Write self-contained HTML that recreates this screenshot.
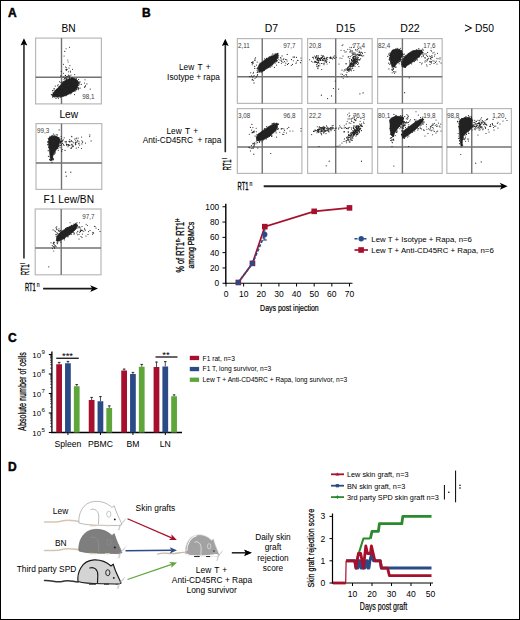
<!DOCTYPE html>
<html><head><meta charset="utf-8"><style>
html,body{margin:0;padding:0;background:#fff;}
body{width:520px;height:620px;overflow:hidden;}
svg{display:block;font-family:"Liberation Sans", sans-serif;}
</style></head><body>
<svg width="520" height="620" viewBox="0 0 520 620" font-family='"Liberation Sans", sans-serif'>
<rect x="0" y="0" width="520" height="620" fill="#fff"/>
<text x="8" y="16.5" font-size="12" text-anchor="start" fill="#000" font-weight="bold" stroke="#000" stroke-width="0.45">A</text>
<text x="68.5" y="32" font-size="10.2" text-anchor="middle" fill="#000" font-weight="normal" >BN</text>
<text x="68.8" y="117.5" font-size="10.2" text-anchor="middle" fill="#000" font-weight="normal" >Lew</text>
<text x="68.8" y="202.5" font-size="10.2" text-anchor="middle" fill="#000" font-weight="normal" >F1 Lew/BN</text>
<rect x="35.6" y="38.1" width="65.8" height="65.8" fill="none" stroke="#b8b8b8" stroke-width="1.2" />
<line x1="61.5" y1="38.1" x2="61.5" y2="103.9" stroke="#727272" stroke-width="1.4" />
<line x1="35.6" y1="77.3" x2="101.4" y2="77.3" stroke="#727272" stroke-width="1.4" />
<path d="M52,95 L55,91 L58,88 L61,84.5 L64,81.5 L68,79 L72,78 L76,79 L78.5,82 L78,86 L76,89.5 L72,92.5 L67,95 L62,96.5 L57,97 L53,96.5Z" fill="#222" stroke="#222" stroke-width="0.6" stroke-linejoin="round"/>
<g fill="#222"><circle cx="53.7" cy="94.8" r="0.6"/><circle cx="51.4" cy="94.5" r="0.6"/><circle cx="51.9" cy="94.8" r="0.6"/><circle cx="53.7" cy="93.4" r="0.6"/><circle cx="56.5" cy="89.3" r="0.6"/><circle cx="54.1" cy="88.8" r="0.6"/><circle cx="54.8" cy="90.8" r="0.6"/><circle cx="55.6" cy="90.3" r="0.6"/><circle cx="59.0" cy="88.0" r="0.6"/><circle cx="60.9" cy="86.2" r="0.6"/><circle cx="59.1" cy="86.6" r="0.6"/><circle cx="58.8" cy="88.0" r="0.6"/><circle cx="62.3" cy="82.8" r="0.6"/><circle cx="62.0" cy="83.0" r="0.6"/><circle cx="63.2" cy="81.5" r="0.6"/><circle cx="60.9" cy="82.5" r="0.6"/><circle cx="66.3" cy="82.1" r="0.6"/><circle cx="63.2" cy="81.9" r="0.6"/><circle cx="64.4" cy="81.1" r="0.6"/><circle cx="66.8" cy="78.7" r="0.6"/><circle cx="71.0" cy="79.4" r="0.6"/><circle cx="69.5" cy="77.9" r="0.6"/><circle cx="72.3" cy="77.8" r="0.6"/><circle cx="72.0" cy="78.9" r="0.6"/><circle cx="76.3" cy="78.6" r="0.6"/><circle cx="72.1" cy="79.2" r="0.6"/><circle cx="71.6" cy="78.2" r="0.6"/><circle cx="73.9" cy="78.7" r="0.6"/><circle cx="76.3" cy="80.3" r="0.6"/><circle cx="79.0" cy="82.1" r="0.6"/><circle cx="78.6" cy="79.5" r="0.6"/><circle cx="78.0" cy="82.5" r="0.6"/><circle cx="80.0" cy="81.9" r="0.6"/><circle cx="78.7" cy="83.2" r="0.6"/><circle cx="77.2" cy="83.0" r="0.6"/><circle cx="79.3" cy="83.1" r="0.6"/><circle cx="75.2" cy="86.4" r="0.6"/><circle cx="75.4" cy="88.3" r="0.6"/><circle cx="78.5" cy="89.0" r="0.6"/><circle cx="77.6" cy="87.6" r="0.6"/><circle cx="74.1" cy="90.9" r="0.6"/><circle cx="73.8" cy="91.5" r="0.6"/><circle cx="75.6" cy="90.8" r="0.6"/><circle cx="76.3" cy="89.7" r="0.6"/><circle cx="71.4" cy="92.9" r="0.6"/><circle cx="67.2" cy="94.4" r="0.6"/><circle cx="70.2" cy="93.8" r="0.6"/><circle cx="73.0" cy="90.5" r="0.6"/><circle cx="64.3" cy="95.7" r="0.6"/><circle cx="66.1" cy="95.7" r="0.6"/><circle cx="63.0" cy="96.4" r="0.6"/><circle cx="61.7" cy="96.3" r="0.6"/><circle cx="60.4" cy="97.0" r="0.6"/><circle cx="58.0" cy="95.9" r="0.6"/><circle cx="60.3" cy="97.0" r="0.6"/><circle cx="56.6" cy="96.6" r="0.6"/><circle cx="56.0" cy="98.5" r="0.6"/><circle cx="54.0" cy="95.2" r="0.6"/><circle cx="53.7" cy="95.9" r="0.6"/><circle cx="54.8" cy="96.9" r="0.6"/><circle cx="52.8" cy="97.1" r="0.6"/><circle cx="53.3" cy="95.2" r="0.6"/><circle cx="54.3" cy="94.9" r="0.6"/><circle cx="52.8" cy="96.6" r="0.6"/></g>
<g fill="#222"><circle cx="69.5" cy="88.7" r="0.55"/><circle cx="55.3" cy="86.1" r="0.55"/><circle cx="68.6" cy="81.6" r="0.55"/><circle cx="58.2" cy="84.7" r="0.55"/><circle cx="75.7" cy="85.9" r="0.55"/><circle cx="73.6" cy="79.0" r="0.55"/><circle cx="64.8" cy="82.8" r="0.55"/><circle cx="74.5" cy="90.6" r="0.55"/><circle cx="65.0" cy="95.5" r="0.55"/><circle cx="72.3" cy="83.3" r="0.55"/><circle cx="58.5" cy="98.2" r="0.55"/><circle cx="65.3" cy="85.1" r="0.55"/><circle cx="70.1" cy="87.3" r="0.55"/><circle cx="73.6" cy="78.6" r="0.55"/><circle cx="76.5" cy="89.0" r="0.55"/><circle cx="75.0" cy="81.9" r="0.55"/><circle cx="64.7" cy="93.0" r="0.55"/><circle cx="67.9" cy="87.1" r="0.55"/><circle cx="74.7" cy="81.7" r="0.55"/><circle cx="53.1" cy="92.6" r="0.55"/><circle cx="58.0" cy="95.7" r="0.55"/><circle cx="67.6" cy="83.8" r="0.55"/><circle cx="68.6" cy="90.1" r="0.55"/><circle cx="70.1" cy="91.7" r="0.55"/><circle cx="68.7" cy="91.0" r="0.55"/><circle cx="78.7" cy="88.4" r="0.55"/><circle cx="64.9" cy="92.3" r="0.55"/><circle cx="54.1" cy="88.7" r="0.55"/><circle cx="57.8" cy="97.0" r="0.55"/><circle cx="59.9" cy="90.7" r="0.55"/><circle cx="65.8" cy="87.5" r="0.55"/><circle cx="64.1" cy="89.7" r="0.55"/><circle cx="77.4" cy="81.7" r="0.55"/><circle cx="72.0" cy="89.1" r="0.55"/><circle cx="63.4" cy="82.9" r="0.55"/><circle cx="65.9" cy="92.7" r="0.55"/><circle cx="56.4" cy="89.8" r="0.55"/><circle cx="74.3" cy="86.9" r="0.55"/><circle cx="68.6" cy="90.0" r="0.55"/><circle cx="65.6" cy="82.1" r="0.55"/><circle cx="56.8" cy="89.4" r="0.55"/><circle cx="71.2" cy="82.1" r="0.55"/><circle cx="60.3" cy="86.9" r="0.55"/><circle cx="58.0" cy="91.2" r="0.55"/><circle cx="60.9" cy="92.0" r="0.55"/><circle cx="54.1" cy="95.4" r="0.55"/><circle cx="59.5" cy="81.8" r="0.55"/><circle cx="70.6" cy="83.8" r="0.55"/><circle cx="52.5" cy="90.6" r="0.55"/><circle cx="67.8" cy="84.4" r="0.55"/><circle cx="73.0" cy="87.4" r="0.55"/><circle cx="71.5" cy="86.2" r="0.55"/><circle cx="76.0" cy="85.4" r="0.55"/><circle cx="65.5" cy="77.9" r="0.55"/><circle cx="74.7" cy="89.1" r="0.55"/><circle cx="64.4" cy="86.2" r="0.55"/><circle cx="74.7" cy="74.6" r="0.55"/><circle cx="74.5" cy="94.6" r="0.55"/><circle cx="63.0" cy="92.4" r="0.55"/><circle cx="77.6" cy="80.8" r="0.55"/><circle cx="72.0" cy="88.6" r="0.55"/><circle cx="61.6" cy="89.4" r="0.55"/><circle cx="70.3" cy="89.2" r="0.55"/><circle cx="66.4" cy="86.4" r="0.55"/><circle cx="60.5" cy="88.8" r="0.55"/><circle cx="72.3" cy="84.7" r="0.55"/><circle cx="60.4" cy="86.5" r="0.55"/><circle cx="84.6" cy="83.1" r="0.55"/><circle cx="65.5" cy="75.4" r="0.55"/><circle cx="71.5" cy="86.9" r="0.55"/><circle cx="77.5" cy="83.4" r="0.55"/><circle cx="67.6" cy="89.1" r="0.55"/><circle cx="57.9" cy="96.8" r="0.55"/><circle cx="67.5" cy="83.4" r="0.55"/><circle cx="78.2" cy="89.7" r="0.55"/><circle cx="57.6" cy="88.8" r="0.55"/><circle cx="69.0" cy="86.8" r="0.55"/><circle cx="62.8" cy="84.6" r="0.55"/><circle cx="81.2" cy="84.4" r="0.55"/><circle cx="57.5" cy="85.7" r="0.55"/><circle cx="78.7" cy="85.5" r="0.55"/><circle cx="79.0" cy="84.4" r="0.55"/><circle cx="62.5" cy="90.6" r="0.55"/><circle cx="53.1" cy="90.8" r="0.55"/><circle cx="67.7" cy="89.1" r="0.55"/><circle cx="62.6" cy="88.8" r="0.55"/><circle cx="70.4" cy="87.0" r="0.55"/><circle cx="71.1" cy="85.8" r="0.55"/><circle cx="66.7" cy="90.9" r="0.55"/><circle cx="65.7" cy="83.8" r="0.55"/></g>
<g fill="#222"><circle cx="65.0" cy="76.0" r="0.55"/><circle cx="66.6" cy="76.7" r="0.55"/><circle cx="67.0" cy="76.8" r="0.55"/><circle cx="66.6" cy="70.3" r="0.55"/><circle cx="68.3" cy="80.7" r="0.55"/><circle cx="68.4" cy="75.1" r="0.55"/><circle cx="68.4" cy="71.7" r="0.55"/><circle cx="60.9" cy="76.3" r="0.55"/><circle cx="64.0" cy="79.3" r="0.55"/><circle cx="63.5" cy="64.2" r="0.55"/><circle cx="63.7" cy="83.1" r="0.55"/><circle cx="65.8" cy="69.8" r="0.55"/><circle cx="64.6" cy="78.3" r="0.55"/><circle cx="68.6" cy="76.8" r="0.55"/><circle cx="71.7" cy="79.2" r="0.55"/><circle cx="66.9" cy="78.7" r="0.55"/><circle cx="72.3" cy="80.4" r="0.55"/><circle cx="70.3" cy="71.1" r="0.55"/><circle cx="66.5" cy="79.3" r="0.55"/><circle cx="66.1" cy="80.8" r="0.55"/><circle cx="68.9" cy="80.1" r="0.55"/><circle cx="66.3" cy="87.5" r="0.55"/><circle cx="71.0" cy="75.0" r="0.55"/><circle cx="67.3" cy="87.7" r="0.55"/><circle cx="65.9" cy="79.9" r="0.55"/><circle cx="70.1" cy="76.0" r="0.55"/><circle cx="63.3" cy="76.8" r="0.55"/><circle cx="68.2" cy="81.1" r="0.55"/><circle cx="69.5" cy="76.1" r="0.55"/><circle cx="69.7" cy="78.4" r="0.55"/><circle cx="67.7" cy="76.2" r="0.55"/><circle cx="66.2" cy="79.1" r="0.55"/><circle cx="63.6" cy="73.2" r="0.55"/><circle cx="67.0" cy="69.4" r="0.55"/><circle cx="65.6" cy="67.0" r="0.55"/><circle cx="64.8" cy="78.6" r="0.55"/><circle cx="68.8" cy="75.8" r="0.55"/><circle cx="66.3" cy="69.6" r="0.55"/><circle cx="72.8" cy="78.3" r="0.55"/><circle cx="70.5" cy="72.0" r="0.55"/><circle cx="66.4" cy="67.8" r="0.55"/><circle cx="69.5" cy="80.2" r="0.55"/><circle cx="60.9" cy="75.8" r="0.55"/><circle cx="69.0" cy="68.1" r="0.55"/><circle cx="61.2" cy="71.2" r="0.55"/></g>
<g fill="#222"><circle cx="66.1" cy="48.8" r="0.55"/><circle cx="68.1" cy="62.0" r="0.55"/><circle cx="69.9" cy="65.6" r="0.55"/><circle cx="72.5" cy="69.3" r="0.55"/><circle cx="64.1" cy="56.0" r="0.55"/><circle cx="64.8" cy="51.4" r="0.55"/><circle cx="67.8" cy="60.0" r="0.55"/><circle cx="69.5" cy="47.3" r="0.55"/></g>
<g fill="#222"><circle cx="78.6" cy="87.9" r="0.55"/><circle cx="84.8" cy="87.1" r="0.55"/><circle cx="85.6" cy="85.7" r="0.55"/><circle cx="90.2" cy="89.1" r="0.55"/><circle cx="85.5" cy="86.0" r="0.55"/><circle cx="85.0" cy="79.8" r="0.55"/><circle cx="80.1" cy="88.1" r="0.55"/><circle cx="77.0" cy="88.6" r="0.55"/><circle cx="86.9" cy="83.9" r="0.55"/><circle cx="84.5" cy="87.1" r="0.55"/></g>
<text x="94.5" y="99" font-size="6.3" text-anchor="end" fill="#404040" font-weight="normal" >98,1</text>
<rect x="36.0" y="123.6" width="65.8" height="65.8" fill="none" stroke="#b8b8b8" stroke-width="1.2" />
<line x1="61.5" y1="123.6" x2="61.5" y2="189.4" stroke="#727272" stroke-width="1.4" />
<line x1="36.0" y1="163" x2="101.80000000000001" y2="163" stroke="#727272" stroke-width="1.4" />
<path d="M49,138 L51,136.5 L54,136 L57,136.5 L59.3,138.5 L59.5,142 L58.5,146 L56.5,149.5 L54,153 L52.5,157 L52.5,160 L50.5,160 L50,155 L49.3,150 L48.6,144 L48.6,140Z" fill="#222" stroke="#222" stroke-width="0.6" stroke-linejoin="round"/>
<g fill="#222"><circle cx="49.3" cy="139.3" r="0.6"/><circle cx="49.5" cy="137.5" r="0.6"/><circle cx="49.0" cy="139.2" r="0.6"/><circle cx="50.0" cy="136.3" r="0.6"/><circle cx="51.6" cy="136.5" r="0.6"/><circle cx="51.8" cy="136.1" r="0.6"/><circle cx="54.1" cy="135.9" r="0.6"/><circle cx="53.4" cy="134.1" r="0.6"/><circle cx="55.3" cy="136.8" r="0.6"/><circle cx="57.1" cy="137.6" r="0.6"/><circle cx="52.2" cy="135.7" r="0.6"/><circle cx="54.9" cy="135.1" r="0.6"/><circle cx="58.9" cy="137.6" r="0.6"/><circle cx="58.9" cy="138.3" r="0.6"/><circle cx="56.0" cy="136.6" r="0.6"/><circle cx="58.2" cy="137.7" r="0.6"/><circle cx="59.4" cy="139.6" r="0.6"/><circle cx="59.7" cy="140.7" r="0.6"/><circle cx="59.0" cy="139.9" r="0.6"/><circle cx="58.7" cy="140.2" r="0.6"/><circle cx="57.8" cy="145.5" r="0.6"/><circle cx="59.0" cy="144.0" r="0.6"/><circle cx="59.8" cy="141.8" r="0.6"/><circle cx="58.6" cy="146.4" r="0.6"/><circle cx="57.8" cy="148.6" r="0.6"/><circle cx="57.8" cy="148.3" r="0.6"/><circle cx="59.1" cy="147.1" r="0.6"/><circle cx="57.3" cy="147.6" r="0.6"/><circle cx="53.2" cy="152.5" r="0.6"/><circle cx="54.8" cy="152.0" r="0.6"/><circle cx="54.9" cy="153.5" r="0.6"/><circle cx="55.2" cy="152.1" r="0.6"/><circle cx="52.5" cy="158.2" r="0.6"/><circle cx="52.7" cy="153.9" r="0.6"/><circle cx="54.1" cy="154.2" r="0.6"/><circle cx="52.0" cy="156.6" r="0.6"/><circle cx="53.5" cy="159.7" r="0.6"/><circle cx="52.6" cy="157.8" r="0.6"/><circle cx="53.1" cy="158.4" r="0.6"/><circle cx="50.8" cy="157.0" r="0.6"/><circle cx="50.2" cy="160.5" r="0.6"/><circle cx="50.9" cy="160.6" r="0.6"/><circle cx="52.0" cy="162.3" r="0.6"/><circle cx="51.0" cy="160.0" r="0.6"/><circle cx="50.2" cy="156.4" r="0.6"/><circle cx="49.6" cy="159.3" r="0.6"/><circle cx="51.1" cy="153.7" r="0.6"/><circle cx="51.9" cy="160.2" r="0.6"/><circle cx="48.2" cy="150.7" r="0.6"/><circle cx="48.4" cy="156.3" r="0.6"/><circle cx="50.9" cy="149.0" r="0.6"/><circle cx="50.2" cy="154.1" r="0.6"/><circle cx="48.0" cy="144.9" r="0.6"/><circle cx="47.9" cy="144.4" r="0.6"/><circle cx="48.7" cy="147.2" r="0.6"/><circle cx="49.0" cy="147.3" r="0.6"/><circle cx="48.4" cy="141.9" r="0.6"/><circle cx="47.7" cy="141.9" r="0.6"/><circle cx="49.6" cy="144.0" r="0.6"/><circle cx="48.1" cy="142.1" r="0.6"/><circle cx="49.6" cy="138.8" r="0.6"/><circle cx="50.0" cy="138.7" r="0.6"/><circle cx="48.3" cy="138.3" r="0.6"/><circle cx="50.1" cy="139.2" r="0.6"/></g>
<g fill="#222"><circle cx="59.8" cy="142.7" r="0.55"/><circle cx="56.3" cy="142.1" r="0.55"/><circle cx="58.3" cy="143.3" r="0.55"/><circle cx="57.2" cy="135.1" r="0.55"/><circle cx="60.1" cy="142.9" r="0.55"/><circle cx="58.6" cy="145.1" r="0.55"/><circle cx="59.3" cy="139.9" r="0.55"/><circle cx="61.2" cy="136.5" r="0.55"/><circle cx="58.3" cy="141.9" r="0.55"/><circle cx="62.1" cy="141.4" r="0.55"/><circle cx="60.8" cy="139.7" r="0.55"/><circle cx="60.8" cy="147.8" r="0.55"/><circle cx="58.3" cy="150.3" r="0.55"/><circle cx="58.4" cy="142.1" r="0.55"/><circle cx="60.4" cy="145.6" r="0.55"/><circle cx="56.9" cy="134.6" r="0.55"/><circle cx="61.5" cy="144.8" r="0.55"/><circle cx="61.6" cy="151.2" r="0.55"/><circle cx="60.5" cy="142.9" r="0.55"/><circle cx="62.3" cy="143.3" r="0.55"/><circle cx="64.2" cy="137.7" r="0.55"/><circle cx="59.1" cy="129.9" r="0.55"/><circle cx="62.0" cy="140.7" r="0.55"/><circle cx="62.3" cy="149.5" r="0.55"/><circle cx="60.0" cy="141.1" r="0.55"/><circle cx="58.8" cy="139.1" r="0.55"/><circle cx="58.4" cy="144.2" r="0.55"/><circle cx="60.1" cy="142.2" r="0.55"/><circle cx="59.6" cy="145.2" r="0.55"/><circle cx="61.2" cy="141.5" r="0.55"/><circle cx="61.7" cy="141.5" r="0.55"/><circle cx="57.1" cy="147.1" r="0.55"/><circle cx="61.2" cy="138.6" r="0.55"/><circle cx="62.7" cy="143.2" r="0.55"/><circle cx="56.1" cy="147.6" r="0.55"/><circle cx="60.8" cy="145.1" r="0.55"/><circle cx="60.5" cy="141.5" r="0.55"/><circle cx="56.1" cy="145.4" r="0.55"/><circle cx="60.1" cy="141.0" r="0.55"/><circle cx="60.9" cy="142.3" r="0.55"/></g>
<g fill="#222"><circle cx="77.4" cy="141.8" r="0.55"/><circle cx="71.7" cy="136.2" r="0.55"/><circle cx="68.6" cy="145.2" r="0.55"/><circle cx="82.7" cy="141.8" r="0.55"/><circle cx="71.0" cy="148.1" r="0.55"/><circle cx="69.4" cy="145.3" r="0.55"/><circle cx="85.4" cy="143.1" r="0.55"/><circle cx="81.8" cy="140.7" r="0.55"/><circle cx="73.7" cy="142.8" r="0.55"/><circle cx="72.9" cy="146.6" r="0.55"/><circle cx="91.1" cy="140.9" r="0.55"/><circle cx="67.4" cy="144.6" r="0.55"/><circle cx="63.6" cy="144.6" r="0.55"/><circle cx="76.6" cy="142.1" r="0.55"/><circle cx="76.2" cy="138.0" r="0.55"/><circle cx="78.1" cy="138.1" r="0.55"/><circle cx="66.4" cy="141.2" r="0.55"/><circle cx="68.8" cy="145.7" r="0.55"/><circle cx="72.7" cy="141.7" r="0.55"/><circle cx="76.3" cy="148.1" r="0.55"/><circle cx="72.0" cy="144.2" r="0.55"/><circle cx="81.9" cy="143.9" r="0.55"/><circle cx="61.7" cy="151.0" r="0.55"/><circle cx="89.7" cy="136.6" r="0.55"/><circle cx="71.7" cy="144.3" r="0.55"/><circle cx="79.7" cy="145.1" r="0.55"/><circle cx="69.8" cy="139.6" r="0.55"/><circle cx="72.8" cy="146.3" r="0.55"/><circle cx="63.3" cy="139.7" r="0.55"/><circle cx="71.8" cy="136.8" r="0.55"/><circle cx="69.9" cy="141.6" r="0.55"/><circle cx="75.6" cy="140.8" r="0.55"/><circle cx="64.9" cy="141.7" r="0.55"/><circle cx="71.6" cy="140.9" r="0.55"/><circle cx="72.1" cy="145.4" r="0.55"/><circle cx="81.5" cy="148.5" r="0.55"/><circle cx="65.7" cy="141.7" r="0.55"/><circle cx="52.1" cy="149.1" r="0.55"/><circle cx="66.2" cy="142.9" r="0.55"/><circle cx="76.2" cy="138.7" r="0.55"/><circle cx="75.7" cy="142.9" r="0.55"/><circle cx="57.4" cy="143.9" r="0.55"/><circle cx="81.6" cy="137.0" r="0.55"/><circle cx="78.5" cy="143.7" r="0.55"/><circle cx="75.8" cy="144.4" r="0.55"/><circle cx="82.4" cy="142.3" r="0.55"/><circle cx="79.0" cy="141.7" r="0.55"/><circle cx="77.8" cy="140.4" r="0.55"/><circle cx="71.1" cy="148.5" r="0.55"/><circle cx="75.6" cy="142.5" r="0.55"/><circle cx="62.8" cy="140.5" r="0.55"/><circle cx="73.5" cy="146.0" r="0.55"/><circle cx="75.4" cy="144.7" r="0.55"/><circle cx="71.7" cy="147.3" r="0.55"/><circle cx="68.9" cy="141.2" r="0.55"/><circle cx="79.1" cy="143.2" r="0.55"/><circle cx="69.8" cy="141.2" r="0.55"/><circle cx="69.9" cy="145.0" r="0.55"/><circle cx="74.8" cy="139.1" r="0.55"/><circle cx="75.4" cy="143.6" r="0.55"/><circle cx="64.0" cy="145.5" r="0.55"/><circle cx="69.8" cy="141.9" r="0.55"/><circle cx="78.4" cy="147.2" r="0.55"/><circle cx="66.5" cy="144.4" r="0.55"/><circle cx="65.0" cy="150.4" r="0.55"/><circle cx="68.0" cy="146.8" r="0.55"/><circle cx="66.8" cy="145.6" r="0.55"/><circle cx="89.8" cy="134.9" r="0.55"/><circle cx="68.5" cy="144.6" r="0.55"/><circle cx="71.3" cy="140.9" r="0.55"/></g>
<g fill="#222"><circle cx="65.7" cy="172.2" r="0.6"/><circle cx="70.8" cy="172.2" r="0.6"/><circle cx="66.2" cy="176.2" r="0.6"/></g>
<text x="37" y="133" font-size="6.3" text-anchor="start" fill="#404040" font-weight="normal" >99,3</text>
<rect x="35.2" y="209.0" width="65.8" height="65.8" fill="none" stroke="#b8b8b8" stroke-width="1.2" />
<line x1="61.2" y1="209.0" x2="61.2" y2="274.79999999999995" stroke="#727272" stroke-width="1.4" />
<line x1="35.2" y1="248" x2="101.0" y2="248" stroke="#727272" stroke-width="1.4" />
<path d="M56.5,238 L58,234.5 L62,231 L67.5,227.5 L72,225.5 L76.5,224 L77.5,225.5 L76,229 L73,232 L69,235 L64,238.5 L59.5,241 L57,241Z" fill="#222" stroke="#222" stroke-width="0.6" stroke-linejoin="round"/>
<g fill="#222"><circle cx="57.3" cy="237.4" r="0.6"/><circle cx="56.2" cy="236.2" r="0.6"/><circle cx="57.3" cy="236.5" r="0.6"/><circle cx="56.1" cy="234.5" r="0.6"/><circle cx="57.7" cy="233.6" r="0.6"/><circle cx="60.5" cy="233.3" r="0.6"/><circle cx="60.5" cy="232.5" r="0.6"/><circle cx="60.8" cy="230.6" r="0.6"/><circle cx="64.6" cy="231.8" r="0.6"/><circle cx="67.1" cy="227.6" r="0.6"/><circle cx="65.6" cy="229.0" r="0.6"/><circle cx="65.7" cy="228.4" r="0.6"/><circle cx="71.2" cy="226.8" r="0.6"/><circle cx="71.6" cy="225.3" r="0.6"/><circle cx="67.6" cy="227.7" r="0.6"/><circle cx="69.7" cy="227.2" r="0.6"/><circle cx="75.5" cy="224.3" r="0.6"/><circle cx="74.5" cy="224.4" r="0.6"/><circle cx="76.7" cy="225.1" r="0.6"/><circle cx="73.9" cy="224.1" r="0.6"/><circle cx="76.1" cy="224.2" r="0.6"/><circle cx="76.2" cy="225.3" r="0.6"/><circle cx="75.8" cy="223.3" r="0.6"/><circle cx="76.9" cy="222.8" r="0.6"/><circle cx="77.2" cy="228.0" r="0.6"/><circle cx="78.0" cy="226.6" r="0.6"/><circle cx="76.4" cy="226.2" r="0.6"/><circle cx="77.2" cy="225.4" r="0.6"/><circle cx="74.0" cy="230.1" r="0.6"/><circle cx="75.0" cy="229.1" r="0.6"/><circle cx="74.3" cy="233.2" r="0.6"/><circle cx="72.8" cy="230.3" r="0.6"/><circle cx="73.3" cy="232.5" r="0.6"/><circle cx="69.6" cy="234.6" r="0.6"/><circle cx="70.1" cy="234.2" r="0.6"/><circle cx="71.6" cy="232.5" r="0.6"/><circle cx="64.3" cy="239.8" r="0.6"/><circle cx="66.3" cy="235.5" r="0.6"/><circle cx="67.9" cy="236.8" r="0.6"/><circle cx="68.0" cy="236.2" r="0.6"/><circle cx="64.5" cy="238.4" r="0.6"/><circle cx="60.7" cy="242.1" r="0.6"/><circle cx="62.2" cy="238.5" r="0.6"/><circle cx="63.2" cy="238.6" r="0.6"/><circle cx="58.4" cy="240.7" r="0.6"/><circle cx="56.4" cy="240.3" r="0.6"/><circle cx="57.3" cy="243.7" r="0.6"/><circle cx="57.1" cy="242.2" r="0.6"/><circle cx="57.4" cy="241.0" r="0.6"/><circle cx="57.3" cy="240.2" r="0.6"/><circle cx="57.9" cy="239.0" r="0.6"/><circle cx="56.6" cy="239.1" r="0.6"/></g>
<g fill="#222"><circle cx="54.7" cy="245.8" r="0.55"/><circle cx="53.8" cy="242.4" r="0.55"/><circle cx="51.0" cy="242.7" r="0.55"/><circle cx="54.0" cy="246.8" r="0.55"/><circle cx="54.1" cy="244.4" r="0.55"/><circle cx="55.4" cy="245.9" r="0.55"/><circle cx="54.3" cy="247.2" r="0.55"/><circle cx="52.4" cy="248.6" r="0.55"/><circle cx="53.6" cy="243.6" r="0.55"/><circle cx="53.9" cy="242.2" r="0.55"/><circle cx="53.8" cy="251.0" r="0.55"/><circle cx="53.2" cy="246.5" r="0.55"/><circle cx="54.6" cy="248.2" r="0.55"/><circle cx="57.8" cy="242.8" r="0.55"/><circle cx="52.3" cy="245.6" r="0.55"/><circle cx="56.1" cy="246.6" r="0.55"/><circle cx="53.2" cy="243.3" r="0.55"/><circle cx="54.3" cy="242.2" r="0.55"/></g>
<g fill="#222"><circle cx="59.0" cy="228.7" r="0.55"/><circle cx="56.0" cy="234.3" r="0.55"/><circle cx="58.4" cy="230.7" r="0.55"/><circle cx="54.8" cy="230.8" r="0.55"/><circle cx="59.2" cy="231.2" r="0.55"/><circle cx="58.5" cy="230.2" r="0.55"/><circle cx="57.0" cy="229.6" r="0.55"/><circle cx="56.9" cy="232.6" r="0.55"/><circle cx="53.1" cy="229.9" r="0.55"/><circle cx="56.5" cy="228.9" r="0.55"/><circle cx="55.4" cy="231.6" r="0.55"/><circle cx="60.0" cy="231.3" r="0.55"/><circle cx="56.7" cy="226.9" r="0.55"/><circle cx="59.9" cy="230.2" r="0.55"/><circle cx="55.9" cy="227.8" r="0.55"/></g>
<g fill="#222"><circle cx="79.6" cy="226.7" r="0.55"/><circle cx="80.5" cy="231.4" r="0.55"/><circle cx="80.2" cy="230.8" r="0.55"/><circle cx="74.0" cy="234.3" r="0.55"/><circle cx="75.4" cy="224.5" r="0.55"/><circle cx="78.7" cy="227.7" r="0.55"/><circle cx="72.9" cy="228.9" r="0.55"/><circle cx="82.0" cy="226.5" r="0.55"/><circle cx="79.0" cy="234.3" r="0.55"/><circle cx="84.8" cy="229.5" r="0.55"/><circle cx="80.9" cy="229.6" r="0.55"/><circle cx="79.7" cy="232.2" r="0.55"/><circle cx="79.4" cy="222.8" r="0.55"/><circle cx="79.8" cy="227.3" r="0.55"/><circle cx="84.6" cy="228.2" r="0.55"/><circle cx="81.0" cy="236.5" r="0.55"/><circle cx="72.7" cy="226.6" r="0.55"/><circle cx="70.1" cy="222.8" r="0.55"/><circle cx="66.9" cy="231.1" r="0.55"/><circle cx="75.5" cy="224.4" r="0.55"/><circle cx="69.6" cy="231.9" r="0.55"/><circle cx="74.6" cy="228.9" r="0.55"/><circle cx="82.3" cy="234.1" r="0.55"/><circle cx="93.6" cy="233.1" r="0.55"/><circle cx="81.0" cy="230.6" r="0.55"/><circle cx="92.6" cy="234.3" r="0.55"/><circle cx="77.8" cy="231.4" r="0.55"/><circle cx="82.0" cy="230.2" r="0.55"/><circle cx="76.5" cy="226.0" r="0.55"/><circle cx="76.3" cy="225.4" r="0.55"/><circle cx="88.6" cy="231.6" r="0.55"/><circle cx="71.6" cy="234.2" r="0.55"/><circle cx="86.2" cy="224.3" r="0.55"/><circle cx="92.9" cy="232.4" r="0.55"/><circle cx="94.4" cy="226.3" r="0.55"/><circle cx="83.7" cy="231.3" r="0.55"/><circle cx="81.4" cy="230.5" r="0.55"/><circle cx="87.4" cy="225.5" r="0.55"/><circle cx="71.3" cy="225.8" r="0.55"/><circle cx="76.1" cy="228.2" r="0.55"/><circle cx="82.6" cy="230.8" r="0.55"/><circle cx="80.2" cy="228.0" r="0.55"/><circle cx="76.9" cy="232.9" r="0.55"/><circle cx="85.3" cy="230.3" r="0.55"/><circle cx="77.7" cy="234.7" r="0.55"/></g>
<g fill="#222"><circle cx="48.8" cy="266.8" r="0.6"/><circle cx="96" cy="228" r="0.6"/><circle cx="98.5" cy="229.5" r="0.6"/><circle cx="100" cy="231.5" r="0.6"/><circle cx="93" cy="233" r="0.6"/><circle cx="90" cy="230.5" r="0.6"/><circle cx="88" cy="234.5" r="0.6"/><circle cx="86" cy="236" r="0.6"/><circle cx="95" cy="226.5" r="0.6"/><circle cx="82" cy="237.5" r="0.6"/><circle cx="79" cy="239" r="0.6"/></g>
<text x="94.5" y="218.5" font-size="6.3" text-anchor="end" fill="#404040" font-weight="normal" >97,7</text>
<line x1="23.95" y1="43" x2="23.95" y2="258.6" stroke="#2a2a2a" stroke-width="1.6" />
<path d="M23.95,38.20 L27.35,45.60 L23.95,44.20 L20.55,45.60 Z" fill="#000"/>
<text transform="translate(29.1,275.2) rotate(-90) scale(0.53,1)" font-size="11" stroke="#000" stroke-width="0.35">RT1</text>
<text transform="translate(25.200000000000003,264.0) rotate(-90) scale(0.8,1)" font-size="7.5" stroke="#000" stroke-width="0.1">l</text>
<text transform="translate(24.9,290.9) scale(0.56,1)" font-size="10.4" stroke="#000" stroke-width="0.35">RT1</text>
<text transform="translate(36.7,287.09999999999997) scale(0.8,1)" font-size="6.4" stroke="#000" stroke-width="0.15">n</text>
<line x1="43.1" y1="288.6" x2="93" y2="288.6" stroke="#1a1a1a" stroke-width="1.6" />
<path d="M98.00,288.60 L90.20,292.00 L92.20,288.60 L90.20,285.20 Z" fill="#000"/>
<text x="142" y="16.5" font-size="12" text-anchor="start" fill="#000" font-weight="bold" stroke="#000" stroke-width="0.45">B</text>
<text x="271.5" y="32" font-size="10.5" text-anchor="middle" fill="#000" font-weight="normal" >D7</text>
<text x="345.7" y="32" font-size="10.5" text-anchor="middle" fill="#000" font-weight="normal" >D15</text>
<text x="410" y="32" font-size="10.5" text-anchor="middle" fill="#000" font-weight="normal" >D22</text>
<text x="475" y="31.6" font-size="10.3" text-anchor="start" fill="#000" font-weight="normal" >D50</text>
<path d="M465,24.9 L471.3,28.1 L465,31.2" fill="none" stroke="#000" stroke-width="1.05"/>
<text x="194.8" y="70.2" font-size="8.3" text-anchor="middle" fill="#000" font-weight="normal" word-spacing="1.1">Lew T +</text>
<text x="193.5" y="79.5" font-size="8.3" text-anchor="middle" fill="#000" font-weight="normal" >Isotype + rapa</text>
<text x="182.3" y="133.5" font-size="8.3" text-anchor="middle" fill="#000" font-weight="normal" word-spacing="1.1">Lew T +</text>
<text x="182" y="143" font-size="8.3" text-anchor="middle" fill="#000" font-weight="normal" xml:space="preserve">Anti-CD45RC  + rapa</text>
<line x1="225.3" y1="43" x2="225.3" y2="152.2" stroke="#2a2a2a" stroke-width="1.6" />
<path d="M225.30,38.70 L228.70,46.10 L225.30,44.70 L221.90,46.10 Z" fill="#000"/>
<text transform="translate(230.8,170.4) rotate(-90) scale(0.53,1)" font-size="11" stroke="#000" stroke-width="0.35">RT1</text>
<text transform="translate(226.9,159.20000000000002) rotate(-90) scale(0.8,1)" font-size="7.5" stroke="#000" stroke-width="0.1">l</text>
<text transform="translate(237.6,189.7) scale(0.56,1)" font-size="10.4" stroke="#000" stroke-width="0.35">RT1</text>
<text transform="translate(249.4,185.89999999999998) scale(0.8,1)" font-size="6.4" stroke="#000" stroke-width="0.15">n</text>
<line x1="263.7" y1="186.2" x2="502" y2="186.2" stroke="#222" stroke-width="1.9" />
<path d="M507.60,186.20 L499.80,189.70 L501.80,186.20 L499.80,182.70 Z" fill="#000"/>
<rect x="237.35" y="38.6" width="64.55" height="64.8" fill="none" stroke="#b8b8b8" stroke-width="1.2" />
<line x1="262.25" y1="38.6" x2="262.25" y2="103.4" stroke="#727272" stroke-width="1.4" />
<line x1="237.35" y1="76.8" x2="301.9" y2="76.8" stroke="#727272" stroke-width="1.4" />
<rect x="307.6" y="38.6" width="64.55" height="64.8" fill="none" stroke="#b8b8b8" stroke-width="1.2" />
<line x1="335.7" y1="38.6" x2="335.7" y2="103.4" stroke="#727272" stroke-width="1.4" />
<line x1="307.6" y1="76.8" x2="372.15" y2="76.8" stroke="#727272" stroke-width="1.4" />
<rect x="377.6" y="38.6" width="64.55" height="64.8" fill="none" stroke="#b8b8b8" stroke-width="1.2" />
<line x1="402.4" y1="38.6" x2="402.4" y2="103.4" stroke="#727272" stroke-width="1.4" />
<line x1="377.6" y1="76.8" x2="442.15" y2="76.8" stroke="#727272" stroke-width="1.4" />
<rect x="237.35" y="108.6" width="64.55" height="64.8" fill="none" stroke="#b8b8b8" stroke-width="1.2" />
<line x1="262.25" y1="108.6" x2="262.25" y2="173.4" stroke="#727272" stroke-width="1.4" />
<line x1="237.35" y1="147" x2="301.9" y2="147" stroke="#727272" stroke-width="1.4" />
<rect x="307.6" y="108.6" width="64.55" height="64.8" fill="none" stroke="#b8b8b8" stroke-width="1.2" />
<line x1="335.7" y1="108.6" x2="335.7" y2="173.4" stroke="#727272" stroke-width="1.4" />
<line x1="307.6" y1="147" x2="372.15" y2="147" stroke="#727272" stroke-width="1.4" />
<rect x="377.6" y="108.6" width="64.55" height="64.8" fill="none" stroke="#b8b8b8" stroke-width="1.2" />
<line x1="402.4" y1="108.6" x2="402.4" y2="173.4" stroke="#727272" stroke-width="1.4" />
<line x1="377.6" y1="147" x2="442.15" y2="147" stroke="#727272" stroke-width="1.4" />
<rect x="446.85" y="108.6" width="64.55" height="64.8" fill="none" stroke="#b8b8b8" stroke-width="1.2" />
<line x1="471.75" y1="108.6" x2="471.75" y2="173.4" stroke="#727272" stroke-width="1.4" />
<line x1="446.85" y1="147" x2="511.4" y2="147" stroke="#727272" stroke-width="1.4" />
<path d="M258,68 L259.5,64 L264,60.5 L269,57.3 L274,55 L277.5,53.5 L278,56 L276.5,60 L273,64.5 L268,68 L263,71 L259,72Z" fill="#222" stroke="#222" stroke-width="0.6" stroke-linejoin="round"/>
<g fill="#222"><circle cx="257.6" cy="68.6" r="0.6"/><circle cx="259.5" cy="65.0" r="0.6"/><circle cx="257.2" cy="68.4" r="0.6"/><circle cx="258.4" cy="66.1" r="0.6"/><circle cx="262.3" cy="63.9" r="0.6"/><circle cx="260.1" cy="63.2" r="0.6"/><circle cx="260.0" cy="65.5" r="0.6"/><circle cx="264.9" cy="60.6" r="0.6"/><circle cx="266.6" cy="58.4" r="0.6"/><circle cx="265.5" cy="60.3" r="0.6"/><circle cx="266.0" cy="59.4" r="0.6"/><circle cx="264.7" cy="58.8" r="0.6"/><circle cx="269.3" cy="56.8" r="0.6"/><circle cx="272.4" cy="54.0" r="0.6"/><circle cx="271.6" cy="56.6" r="0.6"/><circle cx="271.3" cy="56.1" r="0.6"/><circle cx="277.7" cy="53.8" r="0.6"/><circle cx="275.8" cy="54.0" r="0.6"/><circle cx="275.8" cy="54.0" r="0.6"/><circle cx="274.1" cy="54.0" r="0.6"/><circle cx="277.4" cy="54.7" r="0.6"/><circle cx="278.6" cy="55.8" r="0.6"/><circle cx="277.8" cy="54.6" r="0.6"/><circle cx="277.9" cy="53.4" r="0.6"/><circle cx="276.0" cy="56.9" r="0.6"/><circle cx="277.9" cy="57.7" r="0.6"/><circle cx="277.2" cy="58.4" r="0.6"/><circle cx="277.8" cy="57.4" r="0.6"/><circle cx="275.1" cy="63.0" r="0.6"/><circle cx="277.3" cy="60.6" r="0.6"/><circle cx="276.5" cy="60.4" r="0.6"/><circle cx="276.7" cy="61.6" r="0.6"/><circle cx="268.8" cy="67.3" r="0.6"/><circle cx="270.3" cy="67.1" r="0.6"/><circle cx="271.9" cy="66.1" r="0.6"/><circle cx="268.7" cy="66.3" r="0.6"/><circle cx="264.4" cy="70.0" r="0.6"/><circle cx="263.8" cy="70.6" r="0.6"/><circle cx="262.4" cy="71.2" r="0.6"/><circle cx="263.7" cy="70.6" r="0.6"/><circle cx="261.2" cy="70.7" r="0.6"/><circle cx="261.0" cy="70.6" r="0.6"/><circle cx="259.7" cy="71.9" r="0.6"/><circle cx="261.3" cy="72.2" r="0.6"/><circle cx="257.9" cy="67.6" r="0.6"/><circle cx="257.9" cy="71.5" r="0.6"/><circle cx="257.2" cy="70.2" r="0.6"/><circle cx="258.6" cy="69.5" r="0.6"/></g>
<g fill="#222"><circle cx="257.2" cy="72.4" r="0.55"/><circle cx="250.7" cy="72.7" r="0.55"/><circle cx="256.2" cy="77.1" r="0.55"/><circle cx="253.4" cy="80.2" r="0.55"/><circle cx="257.5" cy="74.9" r="0.55"/><circle cx="255.0" cy="78.3" r="0.55"/><circle cx="253.5" cy="72.3" r="0.55"/><circle cx="253.1" cy="73.2" r="0.55"/><circle cx="258.0" cy="72.5" r="0.55"/><circle cx="249.4" cy="76.6" r="0.55"/><circle cx="252.6" cy="79.6" r="0.55"/><circle cx="250.9" cy="76.7" r="0.55"/><circle cx="254.0" cy="82.9" r="0.55"/><circle cx="254.1" cy="75.6" r="0.55"/><circle cx="252.8" cy="77.7" r="0.55"/><circle cx="256.4" cy="76.3" r="0.55"/><circle cx="251.5" cy="75.7" r="0.55"/><circle cx="253.0" cy="76.3" r="0.55"/><circle cx="252.1" cy="79.9" r="0.55"/><circle cx="257.6" cy="74.9" r="0.55"/></g>
<g fill="#222"><circle cx="254.7" cy="66.4" r="0.55"/><circle cx="252.9" cy="63.1" r="0.55"/><circle cx="256.4" cy="65.1" r="0.55"/><circle cx="255.0" cy="58.7" r="0.55"/><circle cx="251.5" cy="62.6" r="0.55"/><circle cx="254.8" cy="68.4" r="0.55"/><circle cx="252.3" cy="64.8" r="0.55"/><circle cx="255.5" cy="57.8" r="0.55"/><circle cx="252.4" cy="62.4" r="0.55"/><circle cx="253.0" cy="61.6" r="0.55"/><circle cx="254.9" cy="60.0" r="0.55"/><circle cx="254.9" cy="60.4" r="0.55"/><circle cx="252.9" cy="63.3" r="0.55"/><circle cx="252.9" cy="62.7" r="0.55"/><circle cx="257.2" cy="62.1" r="0.55"/></g>
<g fill="#222"><circle cx="283.0" cy="62.2" r="0.55"/><circle cx="281.4" cy="63.2" r="0.55"/><circle cx="275.0" cy="61.9" r="0.55"/><circle cx="280.4" cy="57.6" r="0.55"/><circle cx="296.4" cy="57.4" r="0.55"/><circle cx="296.3" cy="62.0" r="0.55"/><circle cx="294.2" cy="57.1" r="0.55"/><circle cx="292.4" cy="64.4" r="0.55"/><circle cx="283.2" cy="59.6" r="0.55"/><circle cx="301.2" cy="60.5" r="0.55"/><circle cx="281.0" cy="58.1" r="0.55"/><circle cx="287.1" cy="61.0" r="0.55"/><circle cx="285.2" cy="65.2" r="0.55"/><circle cx="281.7" cy="61.4" r="0.55"/><circle cx="294.2" cy="57.0" r="0.55"/><circle cx="291.3" cy="65.5" r="0.55"/><circle cx="274.5" cy="56.7" r="0.55"/><circle cx="276.7" cy="54.5" r="0.55"/><circle cx="287.2" cy="54.4" r="0.55"/><circle cx="287.5" cy="64.4" r="0.55"/><circle cx="272.7" cy="59.1" r="0.55"/><circle cx="270.6" cy="62.3" r="0.55"/><circle cx="278.8" cy="59.2" r="0.55"/><circle cx="284.4" cy="61.6" r="0.55"/><circle cx="281.6" cy="60.0" r="0.55"/><circle cx="280.2" cy="60.3" r="0.55"/><circle cx="275.8" cy="60.2" r="0.55"/><circle cx="270.5" cy="58.5" r="0.55"/><circle cx="297.4" cy="60.2" r="0.55"/><circle cx="275.2" cy="60.8" r="0.55"/><circle cx="277.2" cy="55.0" r="0.55"/><circle cx="278.8" cy="62.2" r="0.55"/><circle cx="286.7" cy="59.7" r="0.55"/><circle cx="277.5" cy="56.8" r="0.55"/><circle cx="293.4" cy="60.7" r="0.55"/><circle cx="277.3" cy="53.7" r="0.55"/><circle cx="274.4" cy="67.4" r="0.55"/><circle cx="276.0" cy="59.8" r="0.55"/><circle cx="285.5" cy="59.5" r="0.55"/><circle cx="282.1" cy="55.9" r="0.55"/><circle cx="276.6" cy="65.1" r="0.55"/><circle cx="278.7" cy="62.5" r="0.55"/><circle cx="272.1" cy="59.2" r="0.55"/><circle cx="285.8" cy="63.1" r="0.55"/><circle cx="276.1" cy="61.8" r="0.55"/></g>
<text x="238" y="48" font-size="6.3" text-anchor="start" fill="#404040" font-weight="normal" >2,11</text>
<text x="295.5" y="48" font-size="6.3" text-anchor="end" fill="#404040" font-weight="normal" >97,7</text>
<g fill="#222"><circle cx="291.5" cy="59.6" r="0.6"/><circle cx="296" cy="63.5" r="0.6"/><circle cx="301" cy="58" r="0.6"/><circle cx="300.5" cy="62.7" r="0.6"/><circle cx="288.5" cy="63.5" r="0.6"/><circle cx="283.8" cy="58.8" r="0.6"/><circle cx="293" cy="57" r="0.6"/><circle cx="298" cy="60.5" r="0.6"/></g>
<g fill="#222"><circle cx="321.5" cy="58.4" r="0.55"/><circle cx="321.8" cy="58.0" r="0.55"/><circle cx="317.0" cy="60.0" r="0.55"/><circle cx="309.7" cy="59.8" r="0.55"/><circle cx="316.2" cy="56.8" r="0.55"/><circle cx="318.4" cy="61.7" r="0.55"/><circle cx="318.5" cy="62.8" r="0.55"/><circle cx="315.6" cy="57.1" r="0.55"/><circle cx="325.9" cy="60.9" r="0.55"/><circle cx="323.6" cy="58.2" r="0.55"/><circle cx="323.1" cy="60.6" r="0.55"/><circle cx="322.5" cy="60.1" r="0.55"/><circle cx="324.6" cy="58.6" r="0.55"/><circle cx="316.3" cy="56.7" r="0.55"/><circle cx="324.4" cy="58.4" r="0.55"/><circle cx="316.0" cy="57.9" r="0.55"/><circle cx="318.3" cy="57.2" r="0.55"/><circle cx="318.9" cy="58.6" r="0.55"/><circle cx="317.9" cy="57.9" r="0.55"/><circle cx="320.1" cy="59.0" r="0.55"/><circle cx="320.4" cy="60.5" r="0.55"/><circle cx="321.3" cy="55.2" r="0.55"/><circle cx="318.0" cy="58.2" r="0.55"/><circle cx="322.9" cy="56.5" r="0.55"/><circle cx="317.3" cy="59.4" r="0.55"/><circle cx="318.7" cy="62.2" r="0.55"/><circle cx="318.3" cy="62.1" r="0.55"/><circle cx="314.4" cy="56.0" r="0.55"/><circle cx="324.6" cy="61.0" r="0.55"/><circle cx="321.9" cy="60.3" r="0.55"/><circle cx="321.8" cy="57.3" r="0.55"/><circle cx="323.6" cy="58.8" r="0.55"/><circle cx="323.7" cy="60.2" r="0.55"/><circle cx="312.5" cy="57.2" r="0.55"/><circle cx="324.3" cy="59.7" r="0.55"/><circle cx="318.5" cy="60.5" r="0.55"/><circle cx="318.4" cy="58.8" r="0.55"/><circle cx="320.4" cy="60.3" r="0.55"/><circle cx="325.8" cy="60.1" r="0.55"/><circle cx="327.1" cy="64.0" r="0.55"/><circle cx="326.5" cy="62.3" r="0.55"/><circle cx="320.5" cy="60.3" r="0.55"/><circle cx="319.5" cy="58.4" r="0.55"/><circle cx="319.7" cy="58.6" r="0.55"/><circle cx="326.2" cy="61.2" r="0.55"/><circle cx="318.3" cy="55.8" r="0.55"/><circle cx="319.8" cy="59.1" r="0.55"/><circle cx="315.9" cy="57.5" r="0.55"/><circle cx="311.4" cy="61.3" r="0.55"/><circle cx="319.8" cy="65.7" r="0.55"/><circle cx="319.9" cy="59.7" r="0.55"/><circle cx="325.5" cy="60.3" r="0.55"/><circle cx="320.6" cy="59.2" r="0.55"/><circle cx="317.7" cy="63.3" r="0.55"/><circle cx="323.8" cy="63.8" r="0.55"/><circle cx="318.7" cy="60.1" r="0.55"/><circle cx="316.7" cy="62.1" r="0.55"/><circle cx="314.7" cy="61.2" r="0.55"/><circle cx="324.2" cy="63.1" r="0.55"/><circle cx="316.4" cy="62.4" r="0.55"/><circle cx="317.3" cy="58.3" r="0.55"/><circle cx="315.0" cy="62.5" r="0.55"/><circle cx="326.3" cy="58.7" r="0.55"/><circle cx="317.1" cy="59.3" r="0.55"/><circle cx="329.5" cy="62.2" r="0.55"/><circle cx="317.9" cy="56.1" r="0.55"/><circle cx="317.4" cy="62.6" r="0.55"/><circle cx="327.1" cy="59.4" r="0.55"/><circle cx="317.4" cy="58.9" r="0.55"/><circle cx="312.8" cy="62.0" r="0.55"/><circle cx="315.9" cy="62.3" r="0.55"/><circle cx="313.5" cy="57.2" r="0.55"/><circle cx="321.1" cy="58.3" r="0.55"/><circle cx="323.0" cy="60.0" r="0.55"/><circle cx="315.5" cy="61.4" r="0.55"/><circle cx="323.2" cy="55.8" r="0.55"/><circle cx="326.9" cy="61.1" r="0.55"/><circle cx="322.9" cy="55.9" r="0.55"/><circle cx="317.3" cy="59.2" r="0.55"/><circle cx="324.1" cy="56.8" r="0.55"/><circle cx="316.6" cy="55.5" r="0.55"/><circle cx="319.1" cy="60.8" r="0.55"/><circle cx="313.6" cy="58.7" r="0.55"/><circle cx="321.9" cy="63.5" r="0.55"/><circle cx="322.5" cy="59.3" r="0.55"/><circle cx="315.5" cy="57.9" r="0.55"/><circle cx="317.5" cy="60.3" r="0.55"/><circle cx="319.8" cy="63.7" r="0.55"/><circle cx="321.1" cy="57.6" r="0.55"/><circle cx="325.9" cy="62.1" r="0.55"/></g>
<g fill="#222"><circle cx="330.4" cy="57.2" r="0.55"/><circle cx="322.5" cy="57.0" r="0.55"/><circle cx="333.6" cy="57.2" r="0.55"/><circle cx="324.7" cy="58.0" r="0.55"/><circle cx="331.0" cy="58.3" r="0.55"/><circle cx="332.6" cy="58.9" r="0.55"/><circle cx="326.6" cy="58.6" r="0.55"/><circle cx="326.1" cy="58.4" r="0.55"/><circle cx="330.7" cy="58.0" r="0.55"/><circle cx="333.9" cy="57.8" r="0.55"/><circle cx="334.4" cy="58.5" r="0.55"/><circle cx="330.5" cy="57.3" r="0.55"/><circle cx="327.0" cy="57.4" r="0.55"/><circle cx="329.2" cy="57.8" r="0.55"/><circle cx="341.9" cy="58.3" r="0.55"/><circle cx="333.1" cy="57.1" r="0.55"/><circle cx="327.2" cy="57.5" r="0.55"/><circle cx="330.8" cy="57.0" r="0.55"/><circle cx="336.4" cy="57.3" r="0.55"/><circle cx="334.3" cy="55.9" r="0.55"/><circle cx="330.0" cy="58.0" r="0.55"/><circle cx="330.8" cy="58.3" r="0.55"/><circle cx="331.1" cy="57.9" r="0.55"/><circle cx="322.4" cy="57.2" r="0.55"/><circle cx="320.6" cy="58.3" r="0.55"/></g>
<g fill="#222"><circle cx="318.6" cy="65.6" r="0.55"/><circle cx="316.4" cy="64.8" r="0.55"/><circle cx="321.7" cy="69.5" r="0.55"/><circle cx="317.9" cy="68.6" r="0.55"/><circle cx="314.8" cy="62.1" r="0.55"/><circle cx="317.0" cy="64.3" r="0.55"/><circle cx="316.9" cy="66.4" r="0.55"/><circle cx="324.0" cy="64.7" r="0.55"/><circle cx="318.1" cy="66.6" r="0.55"/><circle cx="317.9" cy="67.9" r="0.55"/><circle cx="321.6" cy="63.5" r="0.55"/><circle cx="318.3" cy="65.5" r="0.55"/></g>
<g fill="#222"><circle cx="351.9" cy="60.5" r="0.55"/><circle cx="342.0" cy="70.1" r="0.55"/><circle cx="355.0" cy="61.6" r="0.55"/><circle cx="349.5" cy="60.9" r="0.55"/><circle cx="349.9" cy="65.0" r="0.55"/><circle cx="345.3" cy="70.0" r="0.55"/><circle cx="356.2" cy="61.2" r="0.55"/><circle cx="353.1" cy="64.7" r="0.55"/><circle cx="350.1" cy="67.1" r="0.55"/><circle cx="353.4" cy="64.4" r="0.55"/><circle cx="352.0" cy="64.2" r="0.55"/><circle cx="351.0" cy="63.9" r="0.55"/><circle cx="362.5" cy="53.5" r="0.55"/><circle cx="357.5" cy="64.5" r="0.55"/><circle cx="356.2" cy="55.2" r="0.55"/><circle cx="356.6" cy="61.5" r="0.55"/><circle cx="362.2" cy="56.1" r="0.55"/><circle cx="354.1" cy="58.8" r="0.55"/><circle cx="349.2" cy="68.6" r="0.55"/><circle cx="353.2" cy="60.3" r="0.55"/><circle cx="350.3" cy="65.5" r="0.55"/><circle cx="353.2" cy="64.1" r="0.55"/><circle cx="349.6" cy="64.0" r="0.55"/><circle cx="359.9" cy="59.7" r="0.55"/><circle cx="353.5" cy="65.7" r="0.55"/><circle cx="355.3" cy="62.6" r="0.55"/><circle cx="353.5" cy="60.7" r="0.55"/><circle cx="356.3" cy="62.3" r="0.55"/><circle cx="351.5" cy="70.7" r="0.55"/><circle cx="363.7" cy="55.7" r="0.55"/><circle cx="361.8" cy="55.0" r="0.55"/><circle cx="350.3" cy="65.0" r="0.55"/><circle cx="349.3" cy="68.2" r="0.55"/><circle cx="353.3" cy="64.9" r="0.55"/><circle cx="347.2" cy="76.7" r="0.55"/><circle cx="362.0" cy="52.6" r="0.55"/><circle cx="356.0" cy="61.2" r="0.55"/><circle cx="353.4" cy="62.4" r="0.55"/><circle cx="350.9" cy="63.7" r="0.55"/><circle cx="353.2" cy="63.1" r="0.55"/><circle cx="352.7" cy="61.4" r="0.55"/><circle cx="352.7" cy="63.9" r="0.55"/><circle cx="353.6" cy="59.8" r="0.55"/><circle cx="355.6" cy="63.0" r="0.55"/><circle cx="354.5" cy="60.6" r="0.55"/><circle cx="350.1" cy="66.2" r="0.55"/><circle cx="357.7" cy="62.2" r="0.55"/><circle cx="351.0" cy="64.0" r="0.55"/><circle cx="354.4" cy="62.4" r="0.55"/><circle cx="347.7" cy="67.7" r="0.55"/><circle cx="353.0" cy="65.3" r="0.55"/><circle cx="346.1" cy="68.8" r="0.55"/><circle cx="352.9" cy="60.1" r="0.55"/><circle cx="353.4" cy="63.9" r="0.55"/><circle cx="350.6" cy="63.4" r="0.55"/><circle cx="351.8" cy="63.9" r="0.55"/><circle cx="352.7" cy="61.4" r="0.55"/><circle cx="354.8" cy="56.6" r="0.55"/><circle cx="351.8" cy="64.9" r="0.55"/><circle cx="355.7" cy="58.5" r="0.55"/><circle cx="354.0" cy="60.6" r="0.55"/><circle cx="358.0" cy="62.3" r="0.55"/><circle cx="351.4" cy="66.5" r="0.55"/><circle cx="350.0" cy="69.7" r="0.55"/><circle cx="357.6" cy="58.0" r="0.55"/><circle cx="348.3" cy="70.1" r="0.55"/><circle cx="358.8" cy="59.5" r="0.55"/><circle cx="353.4" cy="57.8" r="0.55"/><circle cx="351.6" cy="69.0" r="0.55"/><circle cx="348.9" cy="71.4" r="0.55"/><circle cx="361.4" cy="55.5" r="0.55"/><circle cx="356.7" cy="58.0" r="0.55"/><circle cx="347.2" cy="70.0" r="0.55"/><circle cx="351.6" cy="64.9" r="0.55"/><circle cx="355.2" cy="60.4" r="0.55"/><circle cx="353.9" cy="63.5" r="0.55"/><circle cx="355.0" cy="66.2" r="0.55"/><circle cx="354.5" cy="61.9" r="0.55"/><circle cx="350.8" cy="64.3" r="0.55"/><circle cx="358.3" cy="57.5" r="0.55"/><circle cx="347.2" cy="68.7" r="0.55"/><circle cx="351.3" cy="64.2" r="0.55"/><circle cx="355.4" cy="57.3" r="0.55"/><circle cx="354.8" cy="61.7" r="0.55"/><circle cx="347.6" cy="69.9" r="0.55"/><circle cx="352.8" cy="65.1" r="0.55"/><circle cx="351.0" cy="66.6" r="0.55"/><circle cx="344.0" cy="71.0" r="0.55"/><circle cx="357.2" cy="61.3" r="0.55"/><circle cx="351.6" cy="63.4" r="0.55"/><circle cx="354.1" cy="56.2" r="0.55"/><circle cx="350.1" cy="68.8" r="0.55"/><circle cx="353.8" cy="59.6" r="0.55"/><circle cx="346.6" cy="75.1" r="0.55"/><circle cx="351.9" cy="62.2" r="0.55"/><circle cx="354.0" cy="64.8" r="0.55"/><circle cx="343.2" cy="78.2" r="0.55"/><circle cx="352.7" cy="57.9" r="0.55"/><circle cx="353.3" cy="58.1" r="0.55"/><circle cx="357.8" cy="58.8" r="0.55"/><circle cx="361.1" cy="52.1" r="0.55"/><circle cx="354.0" cy="65.2" r="0.55"/><circle cx="348.9" cy="66.4" r="0.55"/><circle cx="350.8" cy="65.8" r="0.55"/><circle cx="348.6" cy="69.9" r="0.55"/><circle cx="354.9" cy="61.4" r="0.55"/><circle cx="359.2" cy="55.2" r="0.55"/><circle cx="357.2" cy="56.9" r="0.55"/><circle cx="353.0" cy="58.0" r="0.55"/><circle cx="353.1" cy="62.8" r="0.55"/><circle cx="349.6" cy="65.8" r="0.55"/><circle cx="350.1" cy="64.9" r="0.55"/><circle cx="342.5" cy="74.2" r="0.55"/><circle cx="349.5" cy="66.1" r="0.55"/><circle cx="347.9" cy="69.1" r="0.55"/><circle cx="355.4" cy="59.8" r="0.55"/><circle cx="352.3" cy="68.0" r="0.55"/><circle cx="357.9" cy="60.2" r="0.55"/><circle cx="356.9" cy="57.9" r="0.55"/><circle cx="353.5" cy="65.9" r="0.55"/><circle cx="350.0" cy="66.6" r="0.55"/><circle cx="354.6" cy="62.5" r="0.55"/><circle cx="352.7" cy="66.5" r="0.55"/><circle cx="352.8" cy="65.7" r="0.55"/><circle cx="357.9" cy="59.4" r="0.55"/><circle cx="354.0" cy="59.0" r="0.55"/><circle cx="346.2" cy="69.8" r="0.55"/><circle cx="356.6" cy="63.4" r="0.55"/><circle cx="347.8" cy="70.4" r="0.55"/><circle cx="347.9" cy="67.4" r="0.55"/><circle cx="352.3" cy="66.2" r="0.55"/><circle cx="355.0" cy="64.3" r="0.55"/><circle cx="349.6" cy="69.9" r="0.55"/><circle cx="356.5" cy="59.4" r="0.55"/><circle cx="353.7" cy="61.0" r="0.55"/><circle cx="347.4" cy="69.0" r="0.55"/><circle cx="353.8" cy="70.5" r="0.55"/><circle cx="352.7" cy="68.3" r="0.55"/><circle cx="353.8" cy="63.4" r="0.55"/><circle cx="354.5" cy="59.4" r="0.55"/><circle cx="356.8" cy="59.9" r="0.55"/><circle cx="347.0" cy="72.2" r="0.55"/><circle cx="355.4" cy="61.8" r="0.55"/><circle cx="358.6" cy="55.6" r="0.55"/><circle cx="355.7" cy="62.3" r="0.55"/><circle cx="350.4" cy="69.9" r="0.55"/><circle cx="344.6" cy="69.7" r="0.55"/><circle cx="353.2" cy="60.1" r="0.55"/><circle cx="349.7" cy="62.7" r="0.55"/><circle cx="351.2" cy="62.3" r="0.55"/><circle cx="351.8" cy="60.5" r="0.55"/><circle cx="354.0" cy="61.5" r="0.55"/><circle cx="352.7" cy="63.6" r="0.55"/><circle cx="351.2" cy="61.8" r="0.55"/><circle cx="341.8" cy="76.8" r="0.55"/><circle cx="348.0" cy="68.1" r="0.55"/><circle cx="351.5" cy="59.6" r="0.55"/><circle cx="348.5" cy="67.1" r="0.55"/><circle cx="348.5" cy="69.6" r="0.55"/><circle cx="350.8" cy="63.7" r="0.55"/><circle cx="349.5" cy="69.8" r="0.55"/><circle cx="350.6" cy="68.0" r="0.55"/><circle cx="351.8" cy="59.6" r="0.55"/><circle cx="348.0" cy="69.4" r="0.55"/><circle cx="355.0" cy="63.2" r="0.55"/><circle cx="357.3" cy="61.2" r="0.55"/><circle cx="350.6" cy="65.6" r="0.55"/><circle cx="355.2" cy="59.6" r="0.55"/><circle cx="354.7" cy="56.9" r="0.55"/><circle cx="355.0" cy="60.5" r="0.55"/></g>
<g fill="#222"><circle cx="354.6" cy="63.2" r="0.55"/><circle cx="357.9" cy="54.1" r="0.55"/><circle cx="353.0" cy="57.3" r="0.55"/><circle cx="358.7" cy="48.5" r="0.55"/><circle cx="345.8" cy="63.7" r="0.55"/><circle cx="353.6" cy="58.4" r="0.55"/><circle cx="353.5" cy="54.2" r="0.55"/><circle cx="357.6" cy="59.9" r="0.55"/><circle cx="358.5" cy="63.8" r="0.55"/><circle cx="352.7" cy="54.2" r="0.55"/><circle cx="360.5" cy="53.9" r="0.55"/><circle cx="356.3" cy="59.9" r="0.55"/><circle cx="349.8" cy="58.6" r="0.55"/><circle cx="359.2" cy="51.0" r="0.55"/><circle cx="355.0" cy="60.1" r="0.55"/><circle cx="359.3" cy="52.1" r="0.55"/><circle cx="351.4" cy="59.8" r="0.55"/><circle cx="360.1" cy="55.4" r="0.55"/><circle cx="361.1" cy="48.8" r="0.55"/><circle cx="355.7" cy="56.4" r="0.55"/><circle cx="357.6" cy="49.2" r="0.55"/><circle cx="353.0" cy="44.8" r="0.55"/><circle cx="357.2" cy="51.0" r="0.55"/><circle cx="360.0" cy="55.1" r="0.55"/><circle cx="353.7" cy="58.4" r="0.55"/><circle cx="359.2" cy="55.6" r="0.55"/><circle cx="352.0" cy="55.6" r="0.55"/><circle cx="358.9" cy="66.6" r="0.55"/><circle cx="355.9" cy="55.1" r="0.55"/><circle cx="355.7" cy="61.7" r="0.55"/><circle cx="359.5" cy="59.9" r="0.55"/><circle cx="359.2" cy="52.4" r="0.55"/><circle cx="355.9" cy="50.3" r="0.55"/><circle cx="354.6" cy="54.7" r="0.55"/><circle cx="353.8" cy="58.9" r="0.55"/><circle cx="360.5" cy="58.7" r="0.55"/><circle cx="346.6" cy="63.8" r="0.55"/><circle cx="353.4" cy="56.8" r="0.55"/><circle cx="359.2" cy="54.6" r="0.55"/><circle cx="355.8" cy="53.8" r="0.55"/><circle cx="359.2" cy="54.3" r="0.55"/><circle cx="351.6" cy="60.1" r="0.55"/><circle cx="350.3" cy="56.6" r="0.55"/><circle cx="357.5" cy="54.7" r="0.55"/><circle cx="354.9" cy="52.7" r="0.55"/><circle cx="354.0" cy="53.6" r="0.55"/><circle cx="359.8" cy="55.4" r="0.55"/><circle cx="364.9" cy="52.5" r="0.55"/><circle cx="353.7" cy="56.4" r="0.55"/><circle cx="355.4" cy="58.6" r="0.55"/></g>
<g fill="#222"><circle cx="360.9" cy="52.5" r="0.55"/><circle cx="342.1" cy="45.6" r="0.55"/><circle cx="346.2" cy="51.8" r="0.55"/><circle cx="352.0" cy="51.0" r="0.55"/><circle cx="360.0" cy="47.1" r="0.55"/><circle cx="348.2" cy="56.9" r="0.55"/><circle cx="353.5" cy="47.3" r="0.55"/><circle cx="342.9" cy="44.7" r="0.55"/><circle cx="341.0" cy="50.2" r="0.55"/><circle cx="352.2" cy="53.5" r="0.55"/><circle cx="351.4" cy="47.6" r="0.55"/><circle cx="348.7" cy="56.7" r="0.55"/><circle cx="344.1" cy="50.6" r="0.55"/><circle cx="352.1" cy="52.2" r="0.55"/><circle cx="350.2" cy="51.7" r="0.55"/><circle cx="355.7" cy="49.5" r="0.55"/><circle cx="349.9" cy="49.3" r="0.55"/><circle cx="347.7" cy="49.3" r="0.55"/><circle cx="350.6" cy="50.7" r="0.55"/><circle cx="358.0" cy="54.6" r="0.55"/><circle cx="350.0" cy="52.1" r="0.55"/><circle cx="353.3" cy="52.7" r="0.55"/><circle cx="352.1" cy="50.9" r="0.55"/><circle cx="349.9" cy="47.3" r="0.55"/><circle cx="355.9" cy="54.5" r="0.55"/></g>
<g fill="#222"><circle cx="344" cy="75.5" r="0.6"/><circle cx="346" cy="74.5" r="0.6"/><circle cx="341" cy="74" r="0.6"/><circle cx="339" cy="64" r="0.6"/><circle cx="340" cy="58" r="0.6"/><circle cx="343" cy="56" r="0.6"/><circle cx="345" cy="52" r="0.6"/></g>
<g fill="#222"><circle cx="321.4" cy="95.2" r="0.6"/><circle cx="327.6" cy="98.6" r="0.6"/><circle cx="331.5" cy="95.9" r="0.6"/><circle cx="333.5" cy="88.5" r="0.6"/><circle cx="338.6" cy="89.1" r="0.6"/><circle cx="359.9" cy="93.8" r="0.6"/><circle cx="363.1" cy="92.9" r="0.6"/><circle cx="335.3" cy="81" r="0.6"/></g>
<text x="309" y="48" font-size="6.3" text-anchor="start" fill="#404040" font-weight="normal" >20,8</text>
<text x="365" y="48" font-size="6.3" text-anchor="end" fill="#404040" font-weight="normal" >77,4</text>
<path d="M390,54 L392,50.5 L396,49 L400,49.5 L402,51.5 L402,56 L400,60 L397,63.5 L394.5,66.5 L392,66.5 L390.5,62 L390,58Z" fill="#222" stroke="#222" stroke-width="0.6" stroke-linejoin="round"/>
<g fill="#222"><circle cx="390.0" cy="55.4" r="0.6"/><circle cx="388.7" cy="54.1" r="0.6"/><circle cx="392.1" cy="51.9" r="0.6"/><circle cx="389.8" cy="53.1" r="0.6"/><circle cx="393.8" cy="49.9" r="0.6"/><circle cx="392.5" cy="50.3" r="0.6"/><circle cx="394.7" cy="51.4" r="0.6"/><circle cx="393.9" cy="50.1" r="0.6"/><circle cx="398.9" cy="51.1" r="0.6"/><circle cx="395.4" cy="49.0" r="0.6"/><circle cx="397.2" cy="48.3" r="0.6"/><circle cx="397.9" cy="49.0" r="0.6"/><circle cx="401.3" cy="50.6" r="0.6"/><circle cx="401.1" cy="52.4" r="0.6"/><circle cx="399.4" cy="49.4" r="0.6"/><circle cx="400.9" cy="50.8" r="0.6"/><circle cx="402.1" cy="53.4" r="0.6"/><circle cx="401.8" cy="55.6" r="0.6"/><circle cx="402.3" cy="53.7" r="0.6"/><circle cx="402.5" cy="55.9" r="0.6"/><circle cx="401.4" cy="54.9" r="0.6"/><circle cx="400.2" cy="58.1" r="0.6"/><circle cx="400.6" cy="60.5" r="0.6"/><circle cx="400.9" cy="57.0" r="0.6"/><circle cx="400.9" cy="59.6" r="0.6"/><circle cx="398.1" cy="62.6" r="0.6"/><circle cx="399.8" cy="61.3" r="0.6"/><circle cx="399.6" cy="61.5" r="0.6"/><circle cx="396.1" cy="67.0" r="0.6"/><circle cx="395.4" cy="64.5" r="0.6"/><circle cx="395.6" cy="64.0" r="0.6"/><circle cx="397.8" cy="62.2" r="0.6"/><circle cx="395.5" cy="67.0" r="0.6"/><circle cx="393.6" cy="66.7" r="0.6"/><circle cx="394.4" cy="65.9" r="0.6"/><circle cx="392.2" cy="66.1" r="0.6"/><circle cx="389.8" cy="64.3" r="0.6"/><circle cx="390.7" cy="63.2" r="0.6"/><circle cx="388.7" cy="63.2" r="0.6"/><circle cx="390.8" cy="61.7" r="0.6"/><circle cx="389.9" cy="59.6" r="0.6"/><circle cx="389.2" cy="59.7" r="0.6"/><circle cx="391.1" cy="59.4" r="0.6"/><circle cx="390.0" cy="60.3" r="0.6"/><circle cx="387.7" cy="56.3" r="0.6"/><circle cx="389.3" cy="55.3" r="0.6"/><circle cx="389.4" cy="58.5" r="0.6"/><circle cx="389.8" cy="57.6" r="0.6"/></g>
<path d="M402,64 L404,58 L407,54.5 L412,51 L417,50 L422,50.3 L422.5,52.5 L419,57 L414,61 L409,64.5 L404.5,67 L402.5,67Z" fill="#222" stroke="#222" stroke-width="0.6" stroke-linejoin="round"/>
<g fill="#222"><circle cx="403.1" cy="59.2" r="0.6"/><circle cx="401.5" cy="62.5" r="0.6"/><circle cx="403.4" cy="59.0" r="0.6"/><circle cx="404.5" cy="59.6" r="0.6"/><circle cx="405.5" cy="55.8" r="0.6"/><circle cx="406.9" cy="56.5" r="0.6"/><circle cx="404.3" cy="56.3" r="0.6"/><circle cx="407.1" cy="55.6" r="0.6"/><circle cx="408.9" cy="53.5" r="0.6"/><circle cx="408.9" cy="54.8" r="0.6"/><circle cx="409.8" cy="53.5" r="0.6"/><circle cx="409.0" cy="53.3" r="0.6"/><circle cx="415.2" cy="51.1" r="0.6"/><circle cx="417.0" cy="51.0" r="0.6"/><circle cx="416.5" cy="49.9" r="0.6"/><circle cx="413.9" cy="50.7" r="0.6"/><circle cx="421.7" cy="50.3" r="0.6"/><circle cx="418.8" cy="48.7" r="0.6"/><circle cx="420.3" cy="50.9" r="0.6"/><circle cx="419.2" cy="50.3" r="0.6"/><circle cx="422.3" cy="52.7" r="0.6"/><circle cx="423.5" cy="50.0" r="0.6"/><circle cx="422.5" cy="49.0" r="0.6"/><circle cx="422.1" cy="52.4" r="0.6"/><circle cx="419.2" cy="57.0" r="0.6"/><circle cx="419.4" cy="56.2" r="0.6"/><circle cx="422.8" cy="53.9" r="0.6"/><circle cx="420.9" cy="54.1" r="0.6"/><circle cx="415.5" cy="60.3" r="0.6"/><circle cx="416.9" cy="59.6" r="0.6"/><circle cx="417.3" cy="60.0" r="0.6"/><circle cx="416.0" cy="58.5" r="0.6"/><circle cx="414.5" cy="61.6" r="0.6"/><circle cx="413.0" cy="61.6" r="0.6"/><circle cx="410.8" cy="62.7" r="0.6"/><circle cx="411.6" cy="63.8" r="0.6"/><circle cx="406.0" cy="66.2" r="0.6"/><circle cx="406.2" cy="64.1" r="0.6"/><circle cx="405.3" cy="67.4" r="0.6"/><circle cx="406.2" cy="65.3" r="0.6"/><circle cx="404.8" cy="67.4" r="0.6"/><circle cx="405.5" cy="66.6" r="0.6"/><circle cx="405.0" cy="66.6" r="0.6"/><circle cx="403.4" cy="66.7" r="0.6"/><circle cx="401.6" cy="64.5" r="0.6"/><circle cx="403.2" cy="65.0" r="0.6"/><circle cx="401.9" cy="65.8" r="0.6"/><circle cx="402.6" cy="64.4" r="0.6"/></g>
<g fill="#222"><circle cx="400.1" cy="54.1" r="0.55"/><circle cx="403.5" cy="61.0" r="0.55"/><circle cx="399.2" cy="61.8" r="0.55"/><circle cx="398.9" cy="60.5" r="0.55"/><circle cx="399.2" cy="56.4" r="0.55"/><circle cx="402.0" cy="59.7" r="0.55"/><circle cx="402.9" cy="54.8" r="0.55"/><circle cx="404.0" cy="63.2" r="0.55"/><circle cx="401.0" cy="59.8" r="0.55"/><circle cx="399.5" cy="57.4" r="0.55"/><circle cx="398.5" cy="58.3" r="0.55"/><circle cx="401.4" cy="63.2" r="0.55"/><circle cx="402.8" cy="61.1" r="0.55"/><circle cx="400.3" cy="57.1" r="0.55"/><circle cx="400.3" cy="58.9" r="0.55"/><circle cx="397.3" cy="61.0" r="0.55"/><circle cx="398.0" cy="56.0" r="0.55"/><circle cx="401.0" cy="56.0" r="0.55"/><circle cx="404.2" cy="57.6" r="0.55"/><circle cx="404.0" cy="62.5" r="0.55"/><circle cx="400.0" cy="59.5" r="0.55"/><circle cx="403.5" cy="56.7" r="0.55"/><circle cx="401.2" cy="55.9" r="0.55"/><circle cx="401.1" cy="56.6" r="0.55"/><circle cx="401.2" cy="61.8" r="0.55"/><circle cx="403.7" cy="58.5" r="0.55"/><circle cx="401.4" cy="61.3" r="0.55"/><circle cx="400.4" cy="53.9" r="0.55"/><circle cx="403.1" cy="54.4" r="0.55"/><circle cx="402.8" cy="54.3" r="0.55"/><circle cx="404.5" cy="54.0" r="0.55"/><circle cx="402.6" cy="63.8" r="0.55"/><circle cx="399.2" cy="63.7" r="0.55"/><circle cx="399.4" cy="51.2" r="0.55"/><circle cx="402.4" cy="60.7" r="0.55"/><circle cx="400.6" cy="48.3" r="0.55"/><circle cx="400.9" cy="56.8" r="0.55"/><circle cx="400.3" cy="56.9" r="0.55"/><circle cx="397.6" cy="55.8" r="0.55"/><circle cx="404.5" cy="63.9" r="0.55"/></g>
<g fill="#222"><circle cx="392.3" cy="67.3" r="0.55"/><circle cx="393.8" cy="71.5" r="0.55"/><circle cx="394.4" cy="66.2" r="0.55"/><circle cx="393.3" cy="69.3" r="0.55"/><circle cx="395.8" cy="71.9" r="0.55"/><circle cx="394.0" cy="71.9" r="0.55"/><circle cx="392.2" cy="72.7" r="0.55"/><circle cx="392.2" cy="69.9" r="0.55"/><circle cx="394.8" cy="66.8" r="0.55"/><circle cx="391.7" cy="64.8" r="0.55"/><circle cx="393.3" cy="68.9" r="0.55"/><circle cx="392.4" cy="70.2" r="0.55"/><circle cx="388.9" cy="68.9" r="0.55"/><circle cx="393.2" cy="68.4" r="0.55"/><circle cx="394.5" cy="73.2" r="0.55"/><circle cx="392.1" cy="66.7" r="0.55"/><circle cx="391.8" cy="69.2" r="0.55"/><circle cx="394.1" cy="66.9" r="0.55"/></g>
<g fill="#222"><circle cx="432.8" cy="53.0" r="0.55"/><circle cx="432.0" cy="57.2" r="0.55"/><circle cx="430.2" cy="62.2" r="0.55"/><circle cx="426.7" cy="55.5" r="0.55"/><circle cx="430.3" cy="58.5" r="0.55"/><circle cx="421.6" cy="56.8" r="0.55"/><circle cx="424.4" cy="57.8" r="0.55"/><circle cx="434.6" cy="56.1" r="0.55"/><circle cx="427.5" cy="56.5" r="0.55"/><circle cx="413.8" cy="58.2" r="0.55"/><circle cx="430.7" cy="56.5" r="0.55"/><circle cx="426.1" cy="53.9" r="0.55"/><circle cx="427.1" cy="59.5" r="0.55"/><circle cx="427.5" cy="59.9" r="0.55"/><circle cx="415.7" cy="54.7" r="0.55"/><circle cx="429.3" cy="56.0" r="0.55"/><circle cx="420.0" cy="54.1" r="0.55"/><circle cx="434.0" cy="52.3" r="0.55"/><circle cx="423.2" cy="52.8" r="0.55"/><circle cx="425.4" cy="57.9" r="0.55"/><circle cx="430.9" cy="50.2" r="0.55"/><circle cx="435.0" cy="54.3" r="0.55"/><circle cx="425.2" cy="60.8" r="0.55"/><circle cx="427.6" cy="52.4" r="0.55"/><circle cx="424.9" cy="53.9" r="0.55"/><circle cx="423.2" cy="55.0" r="0.55"/><circle cx="432.2" cy="57.0" r="0.55"/><circle cx="421.4" cy="64.0" r="0.55"/><circle cx="423.2" cy="56.3" r="0.55"/><circle cx="428.2" cy="58.2" r="0.55"/></g>
<g fill="#222"><circle cx="431.1" cy="61.5" r="0.55"/><circle cx="426.8" cy="61.1" r="0.55"/><circle cx="428.4" cy="58.8" r="0.55"/><circle cx="434.1" cy="61.1" r="0.55"/><circle cx="431.4" cy="62.9" r="0.55"/><circle cx="431.9" cy="55.6" r="0.55"/><circle cx="438.1" cy="58.8" r="0.55"/><circle cx="440.0" cy="57.8" r="0.55"/><circle cx="436.3" cy="61.1" r="0.55"/><circle cx="417.5" cy="55.0" r="0.55"/><circle cx="426.6" cy="64.7" r="0.55"/><circle cx="422.1" cy="63.1" r="0.55"/><circle cx="439.3" cy="61.7" r="0.55"/><circle cx="436.9" cy="58.3" r="0.55"/><circle cx="432.9" cy="60.8" r="0.55"/><circle cx="435.4" cy="62.4" r="0.55"/><circle cx="431.8" cy="57.6" r="0.55"/><circle cx="429.8" cy="61.4" r="0.55"/><circle cx="423.4" cy="55.8" r="0.55"/><circle cx="430.6" cy="58.1" r="0.55"/><circle cx="431.4" cy="51.1" r="0.55"/><circle cx="431.0" cy="59.2" r="0.55"/><circle cx="437.5" cy="53.3" r="0.55"/><circle cx="431.2" cy="61.6" r="0.55"/></g>
<g fill="#222"><circle cx="440" cy="59" r="0.6"/><circle cx="441" cy="63" r="0.6"/><circle cx="437" cy="64" r="0.6"/><circle cx="434" cy="63.5" r="0.6"/><circle cx="430" cy="64.5" r="0.6"/><circle cx="425" cy="62" r="0.6"/><circle cx="427" cy="66" r="0.6"/><circle cx="420" cy="62.5" r="0.6"/></g>
<text x="378" y="48" font-size="6.3" text-anchor="start" fill="#404040" font-weight="normal" >82,4</text>
<text x="435.5" y="48" font-size="6.3" text-anchor="end" fill="#404040" font-weight="normal" >17,6</text>
<g fill="#222"><circle cx="404.6" cy="92.7" r="0.6"/><circle cx="409.2" cy="77.8" r="0.6"/></g>
<path d="M256.5,137 L258.5,134 L263.5,130 L270.5,125.5 L275,123.5 L277.5,124 L277.5,127.5 L275.5,131 L270,136 L264,139.5 L259,141 L257,140.5Z" fill="#222" stroke="#222" stroke-width="0.6" stroke-linejoin="round"/>
<g fill="#222"><circle cx="255.1" cy="136.0" r="0.6"/><circle cx="258.3" cy="134.8" r="0.6"/><circle cx="257.1" cy="134.7" r="0.6"/><circle cx="257.0" cy="135.0" r="0.6"/><circle cx="258.6" cy="133.9" r="0.6"/><circle cx="261.1" cy="132.4" r="0.6"/><circle cx="261.4" cy="132.6" r="0.6"/><circle cx="259.6" cy="133.4" r="0.6"/><circle cx="271.6" cy="126.0" r="0.6"/><circle cx="268.4" cy="127.1" r="0.6"/><circle cx="265.6" cy="130.5" r="0.6"/><circle cx="264.5" cy="128.7" r="0.6"/><circle cx="272.0" cy="123.8" r="0.6"/><circle cx="272.8" cy="123.7" r="0.6"/><circle cx="273.8" cy="125.4" r="0.6"/><circle cx="274.1" cy="123.2" r="0.6"/><circle cx="277.9" cy="123.7" r="0.6"/><circle cx="273.6" cy="123.3" r="0.6"/><circle cx="276.4" cy="123.6" r="0.6"/><circle cx="276.8" cy="123.0" r="0.6"/><circle cx="277.7" cy="129.0" r="0.6"/><circle cx="278.0" cy="124.4" r="0.6"/><circle cx="276.4" cy="124.2" r="0.6"/><circle cx="278.3" cy="124.3" r="0.6"/><circle cx="277.8" cy="129.3" r="0.6"/><circle cx="275.8" cy="130.9" r="0.6"/><circle cx="276.1" cy="132.8" r="0.6"/><circle cx="276.0" cy="128.6" r="0.6"/><circle cx="270.3" cy="135.2" r="0.6"/><circle cx="271.7" cy="136.4" r="0.6"/><circle cx="274.6" cy="130.6" r="0.6"/><circle cx="271.8" cy="135.7" r="0.6"/><circle cx="269.4" cy="136.4" r="0.6"/><circle cx="266.3" cy="138.9" r="0.6"/><circle cx="267.8" cy="137.2" r="0.6"/><circle cx="268.9" cy="135.4" r="0.6"/><circle cx="263.1" cy="139.9" r="0.6"/><circle cx="262.1" cy="141.8" r="0.6"/><circle cx="259.5" cy="142.3" r="0.6"/><circle cx="259.7" cy="141.5" r="0.6"/><circle cx="258.4" cy="140.4" r="0.6"/><circle cx="256.8" cy="140.1" r="0.6"/><circle cx="258.3" cy="140.3" r="0.6"/><circle cx="256.2" cy="141.8" r="0.6"/><circle cx="257.3" cy="139.1" r="0.6"/><circle cx="256.4" cy="137.2" r="0.6"/><circle cx="257.1" cy="140.1" r="0.6"/><circle cx="257.4" cy="138.5" r="0.6"/></g>
<g fill="#222"><circle cx="254.1" cy="145.4" r="0.55"/><circle cx="254.4" cy="142.8" r="0.55"/><circle cx="249.0" cy="147.4" r="0.55"/><circle cx="256.8" cy="138.6" r="0.55"/><circle cx="254.4" cy="144.2" r="0.55"/><circle cx="251.2" cy="148.5" r="0.55"/><circle cx="254.3" cy="143.3" r="0.55"/><circle cx="253.0" cy="143.2" r="0.55"/><circle cx="253.0" cy="144.0" r="0.55"/><circle cx="257.8" cy="148.1" r="0.55"/><circle cx="249.5" cy="147.8" r="0.55"/><circle cx="253.9" cy="146.8" r="0.55"/><circle cx="253.7" cy="146.7" r="0.55"/><circle cx="252.6" cy="148.0" r="0.55"/><circle cx="253.2" cy="148.2" r="0.55"/><circle cx="253.3" cy="143.5" r="0.55"/><circle cx="251.4" cy="145.6" r="0.55"/><circle cx="256.0" cy="143.7" r="0.55"/><circle cx="250.4" cy="150.9" r="0.55"/><circle cx="257.6" cy="142.6" r="0.55"/></g>
<g fill="#222"><circle cx="253.8" cy="132.5" r="0.55"/><circle cx="253.9" cy="131.9" r="0.55"/><circle cx="256.3" cy="131.8" r="0.55"/><circle cx="251.9" cy="132.7" r="0.55"/><circle cx="253.8" cy="131.3" r="0.55"/><circle cx="252.9" cy="127.6" r="0.55"/><circle cx="251.6" cy="130.1" r="0.55"/><circle cx="251.9" cy="124.4" r="0.55"/><circle cx="256.2" cy="128.2" r="0.55"/><circle cx="252.6" cy="132.3" r="0.55"/><circle cx="249.3" cy="134.3" r="0.55"/><circle cx="252.5" cy="132.6" r="0.55"/><circle cx="253.1" cy="131.7" r="0.55"/><circle cx="254.2" cy="131.0" r="0.55"/><circle cx="250.4" cy="127.4" r="0.55"/></g>
<g fill="#222"><circle cx="282.8" cy="134.4" r="0.55"/><circle cx="279.8" cy="132.3" r="0.55"/><circle cx="283.9" cy="132.2" r="0.55"/><circle cx="288.8" cy="127.4" r="0.55"/><circle cx="284.6" cy="130.6" r="0.55"/><circle cx="281.2" cy="128.9" r="0.55"/><circle cx="278.4" cy="128.5" r="0.55"/><circle cx="276.6" cy="137.1" r="0.55"/><circle cx="292.9" cy="131.0" r="0.55"/><circle cx="287.3" cy="128.6" r="0.55"/><circle cx="266.7" cy="126.6" r="0.55"/><circle cx="283.8" cy="134.5" r="0.55"/><circle cx="282.8" cy="128.6" r="0.55"/><circle cx="281.6" cy="128.6" r="0.55"/><circle cx="274.8" cy="130.4" r="0.55"/></g>
<text x="238" y="118" font-size="6.3" text-anchor="start" fill="#404040" font-weight="normal" >3,08</text>
<text x="295.5" y="118" font-size="6.3" text-anchor="end" fill="#404040" font-weight="normal" >96,8</text>
<g fill="#222"><circle cx="301" cy="128.5" r="0.6"/><circle cx="301" cy="131" r="0.6"/><circle cx="290" cy="131" r="0.6"/><circle cx="284" cy="129" r="0.6"/><circle cx="286.5" cy="133" r="0.6"/></g>
<g fill="#222"><circle cx="253.8" cy="154.2" r="0.6"/><circle cx="270.8" cy="153.5" r="0.6"/></g>
<g fill="#222"><circle cx="320.9" cy="128.3" r="0.55"/><circle cx="319.0" cy="128.0" r="0.55"/><circle cx="323.4" cy="133.0" r="0.55"/><circle cx="321.7" cy="134.8" r="0.55"/><circle cx="316.2" cy="130.6" r="0.55"/><circle cx="318.0" cy="129.7" r="0.55"/><circle cx="322.9" cy="131.2" r="0.55"/><circle cx="326.9" cy="128.8" r="0.55"/><circle cx="317.7" cy="129.6" r="0.55"/><circle cx="323.6" cy="128.5" r="0.55"/><circle cx="326.0" cy="133.6" r="0.55"/><circle cx="317.0" cy="130.8" r="0.55"/><circle cx="326.5" cy="125.9" r="0.55"/><circle cx="323.3" cy="129.5" r="0.55"/><circle cx="317.0" cy="132.8" r="0.55"/><circle cx="323.3" cy="129.0" r="0.55"/><circle cx="324.2" cy="131.4" r="0.55"/><circle cx="325.5" cy="131.2" r="0.55"/><circle cx="324.1" cy="127.5" r="0.55"/><circle cx="320.9" cy="130.3" r="0.55"/><circle cx="311.7" cy="134.6" r="0.55"/><circle cx="321.0" cy="127.7" r="0.55"/><circle cx="315.4" cy="130.5" r="0.55"/><circle cx="322.6" cy="128.7" r="0.55"/><circle cx="320.9" cy="128.1" r="0.55"/><circle cx="319.6" cy="129.8" r="0.55"/><circle cx="320.0" cy="131.5" r="0.55"/><circle cx="321.9" cy="130.3" r="0.55"/><circle cx="324.1" cy="132.7" r="0.55"/><circle cx="324.8" cy="130.5" r="0.55"/><circle cx="321.9" cy="128.3" r="0.55"/><circle cx="321.2" cy="131.5" r="0.55"/><circle cx="323.4" cy="129.2" r="0.55"/><circle cx="317.3" cy="126.7" r="0.55"/><circle cx="323.8" cy="132.2" r="0.55"/><circle cx="324.0" cy="127.1" r="0.55"/><circle cx="321.7" cy="130.5" r="0.55"/><circle cx="318.9" cy="130.7" r="0.55"/><circle cx="321.7" cy="128.2" r="0.55"/><circle cx="317.7" cy="131.7" r="0.55"/><circle cx="323.9" cy="128.1" r="0.55"/><circle cx="318.5" cy="131.9" r="0.55"/><circle cx="324.8" cy="129.3" r="0.55"/><circle cx="328.7" cy="129.4" r="0.55"/><circle cx="318.4" cy="132.3" r="0.55"/><circle cx="321.8" cy="130.7" r="0.55"/><circle cx="322.6" cy="127.9" r="0.55"/><circle cx="317.9" cy="129.6" r="0.55"/><circle cx="328.0" cy="127.8" r="0.55"/><circle cx="327.8" cy="130.5" r="0.55"/><circle cx="318.2" cy="130.6" r="0.55"/><circle cx="324.7" cy="128.1" r="0.55"/><circle cx="314.2" cy="130.8" r="0.55"/><circle cx="318.2" cy="130.9" r="0.55"/><circle cx="315.1" cy="129.7" r="0.55"/><circle cx="319.3" cy="126.8" r="0.55"/><circle cx="321.6" cy="130.4" r="0.55"/><circle cx="320.3" cy="127.5" r="0.55"/><circle cx="323.3" cy="126.3" r="0.55"/><circle cx="324.6" cy="131.1" r="0.55"/><circle cx="329.0" cy="131.9" r="0.55"/><circle cx="323.9" cy="130.6" r="0.55"/><circle cx="322.6" cy="127.2" r="0.55"/><circle cx="328.2" cy="131.1" r="0.55"/><circle cx="321.4" cy="127.5" r="0.55"/><circle cx="328.3" cy="131.1" r="0.55"/><circle cx="317.9" cy="131.4" r="0.55"/><circle cx="329.9" cy="130.0" r="0.55"/><circle cx="324.1" cy="129.1" r="0.55"/><circle cx="320.1" cy="132.3" r="0.55"/><circle cx="334.5" cy="130.2" r="0.55"/><circle cx="322.0" cy="131.7" r="0.55"/><circle cx="321.3" cy="131.6" r="0.55"/><circle cx="325.7" cy="127.8" r="0.55"/><circle cx="318.3" cy="129.8" r="0.55"/><circle cx="325.7" cy="130.6" r="0.55"/><circle cx="327.3" cy="127.1" r="0.55"/><circle cx="324.4" cy="128.7" r="0.55"/><circle cx="322.9" cy="130.7" r="0.55"/><circle cx="318.7" cy="129.5" r="0.55"/><circle cx="318.0" cy="130.6" r="0.55"/><circle cx="319.2" cy="128.9" r="0.55"/><circle cx="323.3" cy="128.6" r="0.55"/><circle cx="327.0" cy="128.6" r="0.55"/><circle cx="325.8" cy="130.6" r="0.55"/><circle cx="318.5" cy="129.5" r="0.55"/><circle cx="319.3" cy="129.2" r="0.55"/><circle cx="321.4" cy="133.9" r="0.55"/><circle cx="320.9" cy="133.3" r="0.55"/><circle cx="324.2" cy="127.2" r="0.55"/><circle cx="313.5" cy="131.4" r="0.55"/><circle cx="314.8" cy="131.5" r="0.55"/><circle cx="326.5" cy="130.8" r="0.55"/><circle cx="321.7" cy="129.5" r="0.55"/><circle cx="323.5" cy="129.4" r="0.55"/><circle cx="320.4" cy="129.2" r="0.55"/><circle cx="327.0" cy="128.7" r="0.55"/><circle cx="324.0" cy="127.5" r="0.55"/><circle cx="319.7" cy="127.1" r="0.55"/><circle cx="321.7" cy="131.5" r="0.55"/></g>
<g fill="#222"><circle cx="331.8" cy="127.9" r="0.55"/><circle cx="332.7" cy="127.9" r="0.55"/><circle cx="332.1" cy="128.6" r="0.55"/><circle cx="332.1" cy="125.9" r="0.55"/><circle cx="327.4" cy="129.9" r="0.55"/><circle cx="331.1" cy="130.7" r="0.55"/><circle cx="330.2" cy="128.1" r="0.55"/><circle cx="335.4" cy="128.3" r="0.55"/><circle cx="336.5" cy="128.0" r="0.55"/><circle cx="330.5" cy="129.3" r="0.55"/><circle cx="328.7" cy="128.5" r="0.55"/><circle cx="329.4" cy="128.6" r="0.55"/><circle cx="333.1" cy="127.6" r="0.55"/><circle cx="331.8" cy="127.9" r="0.55"/><circle cx="333.1" cy="125.4" r="0.55"/><circle cx="330.4" cy="128.8" r="0.55"/><circle cx="328.1" cy="130.0" r="0.55"/><circle cx="331.8" cy="129.6" r="0.55"/><circle cx="333.9" cy="128.6" r="0.55"/><circle cx="330.4" cy="127.5" r="0.55"/></g>
<g fill="#222"><circle cx="353.1" cy="132.8" r="0.55"/><circle cx="354.9" cy="131.0" r="0.55"/><circle cx="364.1" cy="119.2" r="0.55"/><circle cx="358.4" cy="127.5" r="0.55"/><circle cx="354.7" cy="134.5" r="0.55"/><circle cx="353.1" cy="131.1" r="0.55"/><circle cx="355.8" cy="130.7" r="0.55"/><circle cx="347.0" cy="140.5" r="0.55"/><circle cx="349.7" cy="135.6" r="0.55"/><circle cx="356.7" cy="131.0" r="0.55"/><circle cx="355.9" cy="136.1" r="0.55"/><circle cx="355.4" cy="130.2" r="0.55"/><circle cx="355.2" cy="131.5" r="0.55"/><circle cx="344.4" cy="138.9" r="0.55"/><circle cx="351.7" cy="140.1" r="0.55"/><circle cx="353.5" cy="132.9" r="0.55"/><circle cx="353.5" cy="135.8" r="0.55"/><circle cx="356.6" cy="134.4" r="0.55"/><circle cx="359.4" cy="131.4" r="0.55"/><circle cx="354.5" cy="133.4" r="0.55"/><circle cx="352.7" cy="133.9" r="0.55"/><circle cx="347.3" cy="138.3" r="0.55"/><circle cx="350.2" cy="135.3" r="0.55"/><circle cx="359.4" cy="128.2" r="0.55"/><circle cx="360.1" cy="128.9" r="0.55"/><circle cx="359.1" cy="130.2" r="0.55"/><circle cx="353.2" cy="135.7" r="0.55"/><circle cx="352.7" cy="133.1" r="0.55"/><circle cx="361.5" cy="130.5" r="0.55"/><circle cx="352.8" cy="138.2" r="0.55"/><circle cx="356.6" cy="128.4" r="0.55"/><circle cx="356.0" cy="131.9" r="0.55"/><circle cx="355.5" cy="130.7" r="0.55"/><circle cx="349.7" cy="137.4" r="0.55"/><circle cx="358.6" cy="130.2" r="0.55"/><circle cx="358.3" cy="131.3" r="0.55"/><circle cx="350.7" cy="136.2" r="0.55"/><circle cx="356.9" cy="132.4" r="0.55"/><circle cx="355.7" cy="132.5" r="0.55"/><circle cx="357.4" cy="134.4" r="0.55"/><circle cx="346.3" cy="140.7" r="0.55"/><circle cx="364.0" cy="123.5" r="0.55"/><circle cx="347.8" cy="139.5" r="0.55"/><circle cx="348.3" cy="137.1" r="0.55"/><circle cx="357.3" cy="133.6" r="0.55"/><circle cx="357.0" cy="131.5" r="0.55"/><circle cx="358.5" cy="128.9" r="0.55"/><circle cx="351.2" cy="135.6" r="0.55"/><circle cx="355.4" cy="130.9" r="0.55"/><circle cx="351.6" cy="134.6" r="0.55"/><circle cx="347.7" cy="136.9" r="0.55"/><circle cx="353.7" cy="132.4" r="0.55"/><circle cx="356.3" cy="134.0" r="0.55"/><circle cx="355.6" cy="131.3" r="0.55"/><circle cx="348.9" cy="135.6" r="0.55"/><circle cx="354.9" cy="130.1" r="0.55"/><circle cx="354.9" cy="129.7" r="0.55"/><circle cx="354.9" cy="131.9" r="0.55"/><circle cx="357.8" cy="128.3" r="0.55"/><circle cx="353.4" cy="134.2" r="0.55"/><circle cx="356.7" cy="134.2" r="0.55"/><circle cx="352.9" cy="132.8" r="0.55"/><circle cx="353.9" cy="134.2" r="0.55"/><circle cx="356.2" cy="132.4" r="0.55"/><circle cx="352.2" cy="140.5" r="0.55"/><circle cx="361.4" cy="125.6" r="0.55"/><circle cx="350.2" cy="137.2" r="0.55"/><circle cx="353.5" cy="128.4" r="0.55"/><circle cx="352.8" cy="130.7" r="0.55"/><circle cx="357.8" cy="132.4" r="0.55"/><circle cx="356.6" cy="126.9" r="0.55"/><circle cx="360.7" cy="128.4" r="0.55"/><circle cx="353.7" cy="134.4" r="0.55"/><circle cx="359.8" cy="126.4" r="0.55"/><circle cx="353.8" cy="131.9" r="0.55"/><circle cx="356.3" cy="125.7" r="0.55"/><circle cx="358.7" cy="126.1" r="0.55"/><circle cx="356.1" cy="127.2" r="0.55"/><circle cx="350.3" cy="135.3" r="0.55"/><circle cx="355.7" cy="127.5" r="0.55"/><circle cx="356.0" cy="129.5" r="0.55"/><circle cx="358.8" cy="127.5" r="0.55"/><circle cx="356.1" cy="130.5" r="0.55"/><circle cx="360.8" cy="125.4" r="0.55"/><circle cx="356.7" cy="134.9" r="0.55"/><circle cx="355.6" cy="133.0" r="0.55"/><circle cx="352.0" cy="135.5" r="0.55"/><circle cx="346.1" cy="141.1" r="0.55"/><circle cx="350.3" cy="133.2" r="0.55"/><circle cx="350.5" cy="139.1" r="0.55"/><circle cx="354.3" cy="129.2" r="0.55"/><circle cx="360.5" cy="124.9" r="0.55"/><circle cx="353.4" cy="134.2" r="0.55"/><circle cx="348.4" cy="134.9" r="0.55"/><circle cx="353.1" cy="136.7" r="0.55"/><circle cx="356.2" cy="127.1" r="0.55"/><circle cx="359.0" cy="128.0" r="0.55"/><circle cx="356.4" cy="130.7" r="0.55"/><circle cx="354.9" cy="129.8" r="0.55"/><circle cx="350.3" cy="135.1" r="0.55"/><circle cx="353.8" cy="134.6" r="0.55"/><circle cx="351.8" cy="138.9" r="0.55"/><circle cx="351.5" cy="134.2" r="0.55"/><circle cx="357.6" cy="130.4" r="0.55"/><circle cx="352.0" cy="132.5" r="0.55"/><circle cx="348.9" cy="134.4" r="0.55"/><circle cx="360.0" cy="129.5" r="0.55"/><circle cx="362.1" cy="126.1" r="0.55"/><circle cx="356.6" cy="132.1" r="0.55"/><circle cx="357.8" cy="128.6" r="0.55"/><circle cx="358.3" cy="133.7" r="0.55"/><circle cx="346.5" cy="137.2" r="0.55"/><circle cx="351.8" cy="137.0" r="0.55"/><circle cx="358.6" cy="127.7" r="0.55"/><circle cx="357.0" cy="129.9" r="0.55"/><circle cx="355.0" cy="130.8" r="0.55"/><circle cx="354.4" cy="132.6" r="0.55"/><circle cx="361.3" cy="130.8" r="0.55"/><circle cx="348.3" cy="139.9" r="0.55"/><circle cx="355.6" cy="133.6" r="0.55"/><circle cx="359.4" cy="129.4" r="0.55"/><circle cx="356.4" cy="128.4" r="0.55"/><circle cx="350.0" cy="140.8" r="0.55"/><circle cx="357.9" cy="126.9" r="0.55"/><circle cx="360.1" cy="128.4" r="0.55"/><circle cx="346.4" cy="142.7" r="0.55"/><circle cx="352.2" cy="137.5" r="0.55"/><circle cx="351.1" cy="134.2" r="0.55"/><circle cx="348.5" cy="138.0" r="0.55"/><circle cx="357.5" cy="127.9" r="0.55"/><circle cx="350.0" cy="142.0" r="0.55"/><circle cx="362.2" cy="126.4" r="0.55"/><circle cx="351.1" cy="133.1" r="0.55"/><circle cx="349.0" cy="139.3" r="0.55"/><circle cx="358.1" cy="126.4" r="0.55"/><circle cx="354.2" cy="132.2" r="0.55"/><circle cx="354.1" cy="134.0" r="0.55"/><circle cx="361.6" cy="123.9" r="0.55"/><circle cx="358.9" cy="130.6" r="0.55"/><circle cx="353.3" cy="133.4" r="0.55"/><circle cx="350.7" cy="138.8" r="0.55"/><circle cx="351.8" cy="133.7" r="0.55"/><circle cx="353.8" cy="131.3" r="0.55"/><circle cx="350.2" cy="136.1" r="0.55"/><circle cx="359.8" cy="126.7" r="0.55"/><circle cx="354.8" cy="128.8" r="0.55"/><circle cx="349.3" cy="141.9" r="0.55"/><circle cx="351.2" cy="132.2" r="0.55"/><circle cx="354.8" cy="133.6" r="0.55"/><circle cx="347.0" cy="138.0" r="0.55"/><circle cx="354.4" cy="130.5" r="0.55"/><circle cx="358.6" cy="130.6" r="0.55"/><circle cx="355.7" cy="130.3" r="0.55"/><circle cx="353.6" cy="131.9" r="0.55"/><circle cx="354.4" cy="133.4" r="0.55"/><circle cx="354.5" cy="134.8" r="0.55"/><circle cx="363.6" cy="122.1" r="0.55"/><circle cx="356.7" cy="132.2" r="0.55"/><circle cx="356.6" cy="129.8" r="0.55"/><circle cx="353.9" cy="135.5" r="0.55"/><circle cx="357.4" cy="130.7" r="0.55"/><circle cx="352.2" cy="136.3" r="0.55"/><circle cx="357.3" cy="129.3" r="0.55"/><circle cx="359.4" cy="132.6" r="0.55"/><circle cx="348.2" cy="140.3" r="0.55"/><circle cx="348.5" cy="135.3" r="0.55"/><circle cx="354.3" cy="134.0" r="0.55"/><circle cx="353.3" cy="131.0" r="0.55"/><circle cx="348.4" cy="137.3" r="0.55"/><circle cx="353.6" cy="131.5" r="0.55"/></g>
<g fill="#222"><circle cx="348.2" cy="131.6" r="0.55"/><circle cx="350.8" cy="123.3" r="0.55"/><circle cx="351.9" cy="121.5" r="0.55"/><circle cx="354.2" cy="122.7" r="0.55"/><circle cx="356.4" cy="118.8" r="0.55"/><circle cx="348.2" cy="132.5" r="0.55"/><circle cx="353.7" cy="127.3" r="0.55"/><circle cx="358.6" cy="126.4" r="0.55"/><circle cx="354.1" cy="117.2" r="0.55"/><circle cx="347.8" cy="128.3" r="0.55"/><circle cx="356.6" cy="126.5" r="0.55"/><circle cx="347.6" cy="114.7" r="0.55"/><circle cx="349.9" cy="118.9" r="0.55"/><circle cx="354.6" cy="119.5" r="0.55"/><circle cx="360.1" cy="121.3" r="0.55"/><circle cx="351.8" cy="127.8" r="0.55"/><circle cx="355.3" cy="120.1" r="0.55"/><circle cx="357.2" cy="132.4" r="0.55"/><circle cx="349.2" cy="122.9" r="0.55"/><circle cx="349.8" cy="115.5" r="0.55"/><circle cx="356.4" cy="127.0" r="0.55"/><circle cx="357.8" cy="125.9" r="0.55"/><circle cx="346.2" cy="123.9" r="0.55"/><circle cx="351.4" cy="118.9" r="0.55"/><circle cx="349.7" cy="127.3" r="0.55"/><circle cx="352.8" cy="132.6" r="0.55"/><circle cx="355.8" cy="115.7" r="0.55"/><circle cx="357.5" cy="129.5" r="0.55"/><circle cx="354.1" cy="118.7" r="0.55"/><circle cx="360.9" cy="118.3" r="0.55"/><circle cx="353.7" cy="115.7" r="0.55"/><circle cx="349.1" cy="116.6" r="0.55"/><circle cx="358.2" cy="129.2" r="0.55"/><circle cx="352.4" cy="118.1" r="0.55"/><circle cx="353.8" cy="125.7" r="0.55"/><circle cx="348.1" cy="118.9" r="0.55"/><circle cx="353.6" cy="127.1" r="0.55"/><circle cx="354.3" cy="126.0" r="0.55"/><circle cx="349.1" cy="113.1" r="0.55"/><circle cx="355.2" cy="120.0" r="0.55"/><circle cx="353.5" cy="122.3" r="0.55"/><circle cx="355.9" cy="120.6" r="0.55"/><circle cx="359.6" cy="124.1" r="0.55"/><circle cx="356.1" cy="126.8" r="0.55"/><circle cx="358.0" cy="125.8" r="0.55"/><circle cx="347.2" cy="121.2" r="0.55"/><circle cx="361.3" cy="126.1" r="0.55"/><circle cx="356.2" cy="126.1" r="0.55"/><circle cx="351.5" cy="121.0" r="0.55"/><circle cx="351.5" cy="129.1" r="0.55"/></g>
<g fill="#222"><circle cx="344.1" cy="131.5" r="0.55"/><circle cx="344.5" cy="131.7" r="0.55"/><circle cx="344.3" cy="125.7" r="0.55"/><circle cx="348.1" cy="128.7" r="0.55"/><circle cx="346.5" cy="128.4" r="0.55"/><circle cx="342.0" cy="128.3" r="0.55"/><circle cx="339.7" cy="125.7" r="0.55"/><circle cx="340.4" cy="127.0" r="0.55"/><circle cx="339.0" cy="127.8" r="0.55"/><circle cx="343.9" cy="132.0" r="0.55"/><circle cx="348.4" cy="127.9" r="0.55"/><circle cx="345.6" cy="127.6" r="0.55"/><circle cx="344.2" cy="127.9" r="0.55"/><circle cx="341.4" cy="128.1" r="0.55"/><circle cx="338.6" cy="128.9" r="0.55"/></g>
<g fill="#222"><circle cx="342" cy="143" r="0.6"/><circle cx="340" cy="145" r="0.6"/><circle cx="338" cy="146" r="0.6"/><circle cx="344" cy="141.5" r="0.6"/></g>
<g fill="#222"><circle cx="329.2" cy="161.2" r="0.6"/><circle cx="326.2" cy="165.8" r="0.6"/><circle cx="361.5" cy="161.2" r="0.6"/><circle cx="319" cy="146.5" r="0.6"/><circle cx="336" cy="146.5" r="0.6"/></g>
<text x="309" y="118" font-size="6.3" text-anchor="start" fill="#404040" font-weight="normal" >22,2</text>
<text x="365" y="118" font-size="6.3" text-anchor="end" fill="#404040" font-weight="normal" >76,3</text>
<path d="M390,121 L391.5,117.8 L395,116.5 L400,116.3 L403.5,117.5 L403,121 L400.5,125 L397,129.5 L394.5,133.5 L393,137 L391,135 L390,129Z" fill="#222" stroke="#222" stroke-width="0.6" stroke-linejoin="round"/>
<g fill="#222"><circle cx="390.3" cy="119.0" r="0.6"/><circle cx="389.7" cy="120.8" r="0.6"/><circle cx="390.2" cy="119.3" r="0.6"/><circle cx="391.1" cy="120.9" r="0.6"/><circle cx="392.1" cy="118.7" r="0.6"/><circle cx="395.4" cy="116.6" r="0.6"/><circle cx="396.1" cy="115.9" r="0.6"/><circle cx="394.6" cy="117.1" r="0.6"/><circle cx="396.0" cy="115.4" r="0.6"/><circle cx="398.1" cy="117.2" r="0.6"/><circle cx="393.9" cy="114.4" r="0.6"/><circle cx="397.1" cy="116.6" r="0.6"/><circle cx="402.6" cy="115.8" r="0.6"/><circle cx="401.9" cy="117.1" r="0.6"/><circle cx="400.7" cy="115.5" r="0.6"/><circle cx="404.8" cy="116.6" r="0.6"/><circle cx="403.5" cy="118.7" r="0.6"/><circle cx="402.5" cy="117.5" r="0.6"/><circle cx="403.4" cy="118.4" r="0.6"/><circle cx="402.5" cy="118.6" r="0.6"/><circle cx="399.2" cy="125.5" r="0.6"/><circle cx="402.7" cy="120.9" r="0.6"/><circle cx="403.3" cy="121.6" r="0.6"/><circle cx="401.4" cy="123.4" r="0.6"/><circle cx="397.8" cy="127.8" r="0.6"/><circle cx="401.2" cy="124.5" r="0.6"/><circle cx="399.7" cy="126.4" r="0.6"/><circle cx="396.1" cy="129.1" r="0.6"/><circle cx="396.6" cy="132.3" r="0.6"/><circle cx="397.0" cy="131.8" r="0.6"/><circle cx="397.0" cy="130.9" r="0.6"/><circle cx="394.6" cy="130.8" r="0.6"/><circle cx="395.2" cy="135.6" r="0.6"/><circle cx="393.5" cy="133.9" r="0.6"/><circle cx="393.3" cy="135.2" r="0.6"/><circle cx="393.2" cy="134.8" r="0.6"/><circle cx="393.7" cy="136.1" r="0.6"/><circle cx="393.1" cy="139.5" r="0.6"/><circle cx="391.3" cy="137.5" r="0.6"/><circle cx="390.4" cy="134.2" r="0.6"/><circle cx="393.0" cy="136.1" r="0.6"/><circle cx="390.5" cy="130.3" r="0.6"/><circle cx="391.3" cy="133.3" r="0.6"/><circle cx="391.5" cy="130.4" r="0.6"/><circle cx="390.0" cy="122.2" r="0.6"/><circle cx="390.0" cy="128.4" r="0.6"/><circle cx="389.9" cy="120.7" r="0.6"/><circle cx="390.6" cy="123.5" r="0.6"/></g>
<path d="M402,134 L404,130.5 L410,126 L416,121.5 L420,119.5 L423,118.8 L423,121 L420,125 L415,130 L409,134.5 L404,137.5 L402.5,137.5Z" fill="#222" stroke="#222" stroke-width="0.6" stroke-linejoin="round"/>
<g fill="#222"><circle cx="402.6" cy="131.8" r="0.6"/><circle cx="405.6" cy="130.8" r="0.6"/><circle cx="403.6" cy="131.1" r="0.6"/><circle cx="401.9" cy="130.9" r="0.6"/><circle cx="405.5" cy="130.5" r="0.6"/><circle cx="405.7" cy="129.3" r="0.6"/><circle cx="410.1" cy="127.4" r="0.6"/><circle cx="408.4" cy="127.0" r="0.6"/><circle cx="414.2" cy="124.0" r="0.6"/><circle cx="411.8" cy="125.3" r="0.6"/><circle cx="413.3" cy="125.2" r="0.6"/><circle cx="415.3" cy="121.8" r="0.6"/><circle cx="417.0" cy="122.2" r="0.6"/><circle cx="414.6" cy="119.7" r="0.6"/><circle cx="419.4" cy="120.0" r="0.6"/><circle cx="416.0" cy="120.1" r="0.6"/><circle cx="420.7" cy="119.4" r="0.6"/><circle cx="420.6" cy="117.5" r="0.6"/><circle cx="422.8" cy="117.1" r="0.6"/><circle cx="422.5" cy="118.7" r="0.6"/><circle cx="423.6" cy="119.5" r="0.6"/><circle cx="423.9" cy="122.7" r="0.6"/><circle cx="422.8" cy="119.1" r="0.6"/><circle cx="422.5" cy="120.1" r="0.6"/><circle cx="420.3" cy="122.3" r="0.6"/><circle cx="422.4" cy="123.0" r="0.6"/><circle cx="422.0" cy="124.3" r="0.6"/><circle cx="422.2" cy="123.0" r="0.6"/><circle cx="420.1" cy="127.0" r="0.6"/><circle cx="414.7" cy="131.0" r="0.6"/><circle cx="417.4" cy="127.9" r="0.6"/><circle cx="418.7" cy="128.7" r="0.6"/><circle cx="412.5" cy="130.8" r="0.6"/><circle cx="412.3" cy="132.3" r="0.6"/><circle cx="411.2" cy="131.5" r="0.6"/><circle cx="407.7" cy="135.3" r="0.6"/><circle cx="405.9" cy="136.5" r="0.6"/><circle cx="407.5" cy="137.0" r="0.6"/><circle cx="408.8" cy="136.0" r="0.6"/><circle cx="404.5" cy="138.3" r="0.6"/><circle cx="402.4" cy="136.1" r="0.6"/><circle cx="402.9" cy="138.2" r="0.6"/><circle cx="403.7" cy="136.9" r="0.6"/><circle cx="404.9" cy="137.2" r="0.6"/><circle cx="401.5" cy="134.4" r="0.6"/><circle cx="402.0" cy="135.4" r="0.6"/><circle cx="403.3" cy="137.3" r="0.6"/><circle cx="403.2" cy="137.7" r="0.6"/></g>
<g fill="#222"><circle cx="407.5" cy="122.8" r="0.55"/><circle cx="402.2" cy="130.8" r="0.55"/><circle cx="403.6" cy="125.7" r="0.55"/><circle cx="402.0" cy="127.9" r="0.55"/><circle cx="401.8" cy="120.0" r="0.55"/><circle cx="402.8" cy="122.2" r="0.55"/><circle cx="405.5" cy="122.5" r="0.55"/><circle cx="403.4" cy="123.1" r="0.55"/><circle cx="404.0" cy="121.5" r="0.55"/><circle cx="406.3" cy="118.3" r="0.55"/><circle cx="401.8" cy="121.2" r="0.55"/><circle cx="404.9" cy="124.2" r="0.55"/><circle cx="404.5" cy="122.7" r="0.55"/><circle cx="400.8" cy="119.5" r="0.55"/><circle cx="402.0" cy="121.9" r="0.55"/><circle cx="403.8" cy="125.4" r="0.55"/><circle cx="405.9" cy="123.6" r="0.55"/><circle cx="400.8" cy="119.8" r="0.55"/><circle cx="403.2" cy="125.4" r="0.55"/><circle cx="408.8" cy="124.7" r="0.55"/><circle cx="408.3" cy="131.5" r="0.55"/><circle cx="399.9" cy="128.8" r="0.55"/><circle cx="406.4" cy="129.4" r="0.55"/><circle cx="403.0" cy="127.8" r="0.55"/><circle cx="401.6" cy="123.7" r="0.55"/><circle cx="403.1" cy="131.1" r="0.55"/><circle cx="402.4" cy="127.8" r="0.55"/><circle cx="403.2" cy="121.2" r="0.55"/><circle cx="403.7" cy="126.6" r="0.55"/><circle cx="400.9" cy="126.5" r="0.55"/><circle cx="400.9" cy="120.5" r="0.55"/><circle cx="403.7" cy="123.1" r="0.55"/><circle cx="400.1" cy="117.5" r="0.55"/><circle cx="403.1" cy="125.0" r="0.55"/><circle cx="401.6" cy="124.7" r="0.55"/><circle cx="398.4" cy="125.6" r="0.55"/><circle cx="404.2" cy="125.1" r="0.55"/><circle cx="401.2" cy="124.3" r="0.55"/><circle cx="403.4" cy="128.3" r="0.55"/><circle cx="403.8" cy="125.0" r="0.55"/><circle cx="400.8" cy="127.4" r="0.55"/><circle cx="406.5" cy="122.0" r="0.55"/><circle cx="404.9" cy="125.2" r="0.55"/><circle cx="402.9" cy="118.9" r="0.55"/><circle cx="408.3" cy="116.5" r="0.55"/><circle cx="403.9" cy="122.5" r="0.55"/><circle cx="406.4" cy="122.3" r="0.55"/><circle cx="403.1" cy="126.4" r="0.55"/><circle cx="404.4" cy="121.9" r="0.55"/><circle cx="405.0" cy="125.6" r="0.55"/></g>
<g fill="#222"><circle cx="393.5" cy="139.0" r="0.55"/><circle cx="391.9" cy="139.2" r="0.55"/><circle cx="390.7" cy="140.5" r="0.55"/><circle cx="392.6" cy="142.8" r="0.55"/><circle cx="391.5" cy="140.8" r="0.55"/><circle cx="393.7" cy="139.8" r="0.55"/><circle cx="392.1" cy="140.3" r="0.55"/><circle cx="391.0" cy="138.0" r="0.55"/><circle cx="393.7" cy="140.3" r="0.55"/><circle cx="391.9" cy="137.5" r="0.55"/><circle cx="392.2" cy="142.3" r="0.55"/><circle cx="390.3" cy="138.2" r="0.55"/></g>
<g fill="#222"><circle cx="437.7" cy="131.0" r="0.55"/><circle cx="440.8" cy="124.1" r="0.55"/><circle cx="434.2" cy="123.4" r="0.55"/><circle cx="433.6" cy="124.7" r="0.55"/><circle cx="431.4" cy="130.7" r="0.55"/><circle cx="432.4" cy="125.2" r="0.55"/><circle cx="430.4" cy="126.9" r="0.55"/><circle cx="426.4" cy="126.7" r="0.55"/><circle cx="434.2" cy="131.4" r="0.55"/><circle cx="415.6" cy="121.9" r="0.55"/><circle cx="421.4" cy="129.0" r="0.55"/><circle cx="430.8" cy="130.0" r="0.55"/><circle cx="413.0" cy="125.4" r="0.55"/><circle cx="408.3" cy="126.5" r="0.55"/><circle cx="426.5" cy="124.3" r="0.55"/><circle cx="432.4" cy="124.0" r="0.55"/><circle cx="437.7" cy="126.0" r="0.55"/><circle cx="432.6" cy="134.8" r="0.55"/><circle cx="426.9" cy="129.2" r="0.55"/><circle cx="424.3" cy="130.3" r="0.55"/><circle cx="436.7" cy="126.5" r="0.55"/><circle cx="436.9" cy="131.6" r="0.55"/><circle cx="439.6" cy="126.0" r="0.55"/><circle cx="429.6" cy="129.8" r="0.55"/><circle cx="419.8" cy="123.9" r="0.55"/><circle cx="433.4" cy="128.0" r="0.55"/><circle cx="432.3" cy="127.5" r="0.55"/><circle cx="420.9" cy="125.4" r="0.55"/><circle cx="431.8" cy="125.2" r="0.55"/><circle cx="430.4" cy="128.1" r="0.55"/><circle cx="423.4" cy="124.0" r="0.55"/><circle cx="417.7" cy="130.0" r="0.55"/><circle cx="422.7" cy="120.1" r="0.55"/><circle cx="435.3" cy="125.3" r="0.55"/><circle cx="436.7" cy="124.7" r="0.55"/><circle cx="431.0" cy="126.4" r="0.55"/><circle cx="428.6" cy="128.8" r="0.55"/></g>
<g fill="#222"><circle cx="423.9" cy="121.5" r="0.55"/><circle cx="405.5" cy="127.5" r="0.55"/><circle cx="418.3" cy="115.1" r="0.55"/><circle cx="407.9" cy="118.1" r="0.55"/><circle cx="415.3" cy="127.0" r="0.55"/><circle cx="407.6" cy="117.3" r="0.55"/><circle cx="416.0" cy="111.8" r="0.55"/><circle cx="415.8" cy="123.1" r="0.55"/><circle cx="423.4" cy="129.9" r="0.55"/><circle cx="408.6" cy="122.4" r="0.55"/><circle cx="410.4" cy="119.7" r="0.55"/><circle cx="412.5" cy="129.7" r="0.55"/><circle cx="403.1" cy="122.7" r="0.55"/><circle cx="420.8" cy="128.4" r="0.55"/><circle cx="407.2" cy="119.2" r="0.55"/><circle cx="406.9" cy="114.5" r="0.55"/><circle cx="418.8" cy="124.4" r="0.55"/><circle cx="407.9" cy="115.5" r="0.55"/><circle cx="409.7" cy="121.0" r="0.55"/><circle cx="422.2" cy="121.3" r="0.55"/></g>
<g fill="#222"><circle cx="436" cy="120" r="0.6"/><circle cx="438.5" cy="123" r="0.6"/><circle cx="440" cy="127" r="0.6"/><circle cx="441" cy="131" r="0.6"/><circle cx="436" cy="133" r="0.6"/><circle cx="433" cy="130" r="0.6"/><circle cx="428" cy="133.5" r="0.6"/><circle cx="425" cy="136" r="0.6"/></g>
<text x="378" y="118" font-size="6.3" text-anchor="start" fill="#404040" font-weight="normal" >80,1</text>
<text x="435.5" y="118" font-size="6.3" text-anchor="end" fill="#404040" font-weight="normal" >19,8</text>
<g fill="#222"><circle cx="393.8" cy="166" r="0.6"/><circle cx="392" cy="146.5" r="0.6"/><circle cx="408.5" cy="146.5" r="0.6"/></g>
<path d="M459.3,121 L461,118.8 L465,117.8 L468.5,117.3 L471,118.3 L472.3,121 L472,126 L470,130 L466,133 L463.5,136 L462.5,140 L462,145.5 L460.8,145.5 L460.3,140 L459.5,134 L459,127Z" fill="#222" stroke="#222" stroke-width="0.6" stroke-linejoin="round"/>
<g fill="#222"><circle cx="457.6" cy="121.4" r="0.6"/><circle cx="457.7" cy="121.8" r="0.6"/><circle cx="461.0" cy="120.5" r="0.6"/><circle cx="459.1" cy="118.9" r="0.6"/><circle cx="461.6" cy="119.3" r="0.6"/><circle cx="462.5" cy="118.6" r="0.6"/><circle cx="462.3" cy="118.6" r="0.6"/><circle cx="464.4" cy="117.8" r="0.6"/><circle cx="466.0" cy="116.7" r="0.6"/><circle cx="465.4" cy="117.7" r="0.6"/><circle cx="467.8" cy="118.2" r="0.6"/><circle cx="468.5" cy="115.6" r="0.6"/><circle cx="469.2" cy="116.9" r="0.6"/><circle cx="471.4" cy="119.7" r="0.6"/><circle cx="469.2" cy="119.3" r="0.6"/><circle cx="471.1" cy="116.4" r="0.6"/><circle cx="471.8" cy="120.0" r="0.6"/><circle cx="471.6" cy="119.0" r="0.6"/><circle cx="471.6" cy="118.5" r="0.6"/><circle cx="472.6" cy="120.2" r="0.6"/><circle cx="471.6" cy="119.7" r="0.6"/><circle cx="473.9" cy="122.5" r="0.6"/><circle cx="472.5" cy="126.5" r="0.6"/><circle cx="471.7" cy="124.5" r="0.6"/><circle cx="471.0" cy="128.2" r="0.6"/><circle cx="472.0" cy="126.7" r="0.6"/><circle cx="470.5" cy="127.8" r="0.6"/><circle cx="470.3" cy="128.4" r="0.6"/><circle cx="468.8" cy="133.4" r="0.6"/><circle cx="468.3" cy="131.8" r="0.6"/><circle cx="466.2" cy="133.0" r="0.6"/><circle cx="469.6" cy="129.1" r="0.6"/><circle cx="465.3" cy="133.0" r="0.6"/><circle cx="464.8" cy="133.6" r="0.6"/><circle cx="466.5" cy="134.4" r="0.6"/><circle cx="465.0" cy="135.1" r="0.6"/><circle cx="463.9" cy="139.1" r="0.6"/><circle cx="463.2" cy="137.9" r="0.6"/><circle cx="462.9" cy="137.9" r="0.6"/><circle cx="462.9" cy="139.6" r="0.6"/><circle cx="461.7" cy="142.4" r="0.6"/><circle cx="462.3" cy="145.7" r="0.6"/><circle cx="462.1" cy="144.2" r="0.6"/><circle cx="462.6" cy="139.6" r="0.6"/><circle cx="462.7" cy="145.1" r="0.6"/><circle cx="461.1" cy="146.8" r="0.6"/><circle cx="461.6" cy="145.3" r="0.6"/><circle cx="461.4" cy="145.5" r="0.6"/><circle cx="461.1" cy="139.7" r="0.6"/><circle cx="461.5" cy="145.1" r="0.6"/><circle cx="459.6" cy="143.7" r="0.6"/><circle cx="460.6" cy="142.2" r="0.6"/><circle cx="459.5" cy="140.3" r="0.6"/><circle cx="459.8" cy="137.9" r="0.6"/><circle cx="458.6" cy="138.3" r="0.6"/><circle cx="459.0" cy="136.1" r="0.6"/><circle cx="460.2" cy="127.0" r="0.6"/><circle cx="458.2" cy="133.6" r="0.6"/><circle cx="461.8" cy="132.6" r="0.6"/><circle cx="459.7" cy="128.4" r="0.6"/><circle cx="459.1" cy="123.6" r="0.6"/><circle cx="459.4" cy="121.5" r="0.6"/><circle cx="458.7" cy="126.7" r="0.6"/><circle cx="460.0" cy="121.5" r="0.6"/></g>
<g fill="#222"><circle cx="478.1" cy="123.7" r="0.55"/><circle cx="479.4" cy="125.4" r="0.55"/><circle cx="481.2" cy="127.0" r="0.55"/><circle cx="479.2" cy="123.6" r="0.55"/><circle cx="482.0" cy="127.9" r="0.55"/><circle cx="474.5" cy="126.4" r="0.55"/><circle cx="480.5" cy="125.9" r="0.55"/><circle cx="480.2" cy="124.5" r="0.55"/><circle cx="478.1" cy="128.8" r="0.55"/><circle cx="485.1" cy="120.8" r="0.55"/><circle cx="467.1" cy="127.5" r="0.55"/><circle cx="474.9" cy="124.3" r="0.55"/><circle cx="471.2" cy="126.8" r="0.55"/><circle cx="477.6" cy="123.8" r="0.55"/><circle cx="482.6" cy="129.8" r="0.55"/><circle cx="484.8" cy="126.7" r="0.55"/><circle cx="476.4" cy="126.7" r="0.55"/><circle cx="478.2" cy="127.6" r="0.55"/><circle cx="480.5" cy="124.6" r="0.55"/><circle cx="480.2" cy="123.1" r="0.55"/><circle cx="481.9" cy="127.8" r="0.55"/><circle cx="476.6" cy="126.5" r="0.55"/><circle cx="471.1" cy="128.1" r="0.55"/><circle cx="481.5" cy="122.2" r="0.55"/><circle cx="485.6" cy="124.2" r="0.55"/><circle cx="470.1" cy="123.0" r="0.55"/><circle cx="481.7" cy="123.9" r="0.55"/><circle cx="482.3" cy="120.9" r="0.55"/><circle cx="477.9" cy="127.2" r="0.55"/><circle cx="475.3" cy="126.9" r="0.55"/><circle cx="476.6" cy="126.0" r="0.55"/><circle cx="480.1" cy="129.7" r="0.55"/><circle cx="472.9" cy="127.5" r="0.55"/><circle cx="483.3" cy="121.7" r="0.55"/><circle cx="479.1" cy="130.1" r="0.55"/><circle cx="481.6" cy="117.8" r="0.55"/><circle cx="476.4" cy="121.4" r="0.55"/><circle cx="479.1" cy="123.2" r="0.55"/><circle cx="475.3" cy="123.5" r="0.55"/><circle cx="479.1" cy="123.8" r="0.55"/><circle cx="474.0" cy="125.0" r="0.55"/><circle cx="479.5" cy="122.9" r="0.55"/><circle cx="482.3" cy="120.7" r="0.55"/><circle cx="479.6" cy="123.9" r="0.55"/><circle cx="484.6" cy="122.6" r="0.55"/><circle cx="474.7" cy="122.4" r="0.55"/><circle cx="486.8" cy="125.2" r="0.55"/><circle cx="473.2" cy="124.9" r="0.55"/><circle cx="474.3" cy="129.0" r="0.55"/><circle cx="479.2" cy="120.2" r="0.55"/><circle cx="479.2" cy="126.9" r="0.55"/><circle cx="478.2" cy="126.0" r="0.55"/><circle cx="477.6" cy="125.5" r="0.55"/><circle cx="478.7" cy="123.3" r="0.55"/><circle cx="479.6" cy="125.2" r="0.55"/><circle cx="477.6" cy="123.5" r="0.55"/><circle cx="473.7" cy="126.2" r="0.55"/><circle cx="480.8" cy="119.1" r="0.55"/><circle cx="476.1" cy="128.3" r="0.55"/><circle cx="481.7" cy="122.9" r="0.55"/><circle cx="483.5" cy="122.0" r="0.55"/><circle cx="475.2" cy="129.8" r="0.55"/><circle cx="476.0" cy="124.8" r="0.55"/><circle cx="470.5" cy="123.8" r="0.55"/><circle cx="472.9" cy="125.4" r="0.55"/><circle cx="470.4" cy="128.5" r="0.55"/><circle cx="476.3" cy="123.9" r="0.55"/><circle cx="475.5" cy="127.0" r="0.55"/><circle cx="484.5" cy="123.2" r="0.55"/><circle cx="485.5" cy="127.6" r="0.55"/><circle cx="483.9" cy="124.8" r="0.55"/><circle cx="471.8" cy="127.4" r="0.55"/><circle cx="476.3" cy="125.7" r="0.55"/><circle cx="469.7" cy="125.5" r="0.55"/><circle cx="478.7" cy="122.8" r="0.55"/><circle cx="479.8" cy="128.5" r="0.55"/><circle cx="478.8" cy="123.3" r="0.55"/><circle cx="487.7" cy="118.8" r="0.55"/><circle cx="474.1" cy="126.5" r="0.55"/><circle cx="474.7" cy="120.3" r="0.55"/><circle cx="479.4" cy="126.7" r="0.55"/><circle cx="475.0" cy="128.7" r="0.55"/><circle cx="480.5" cy="127.3" r="0.55"/><circle cx="471.4" cy="125.9" r="0.55"/><circle cx="485.6" cy="128.5" r="0.55"/><circle cx="483.7" cy="124.2" r="0.55"/><circle cx="478.6" cy="123.5" r="0.55"/><circle cx="482.6" cy="122.8" r="0.55"/><circle cx="477.9" cy="120.3" r="0.55"/><circle cx="472.0" cy="129.9" r="0.55"/></g>
<g fill="#222"><circle cx="490.5" cy="124.6" r="0.55"/><circle cx="472.9" cy="125.4" r="0.55"/><circle cx="505.7" cy="118.2" r="0.55"/><circle cx="471.5" cy="125.1" r="0.55"/><circle cx="485.8" cy="123.7" r="0.55"/><circle cx="479.9" cy="120.9" r="0.55"/><circle cx="480.6" cy="126.7" r="0.55"/><circle cx="489.8" cy="126.4" r="0.55"/><circle cx="481.8" cy="126.5" r="0.55"/><circle cx="486.6" cy="124.6" r="0.55"/><circle cx="497.3" cy="123.5" r="0.55"/><circle cx="486.8" cy="119.4" r="0.55"/><circle cx="490.7" cy="126.2" r="0.55"/><circle cx="485.1" cy="124.2" r="0.55"/><circle cx="475.9" cy="121.3" r="0.55"/><circle cx="493.5" cy="127.5" r="0.55"/><circle cx="487.2" cy="119.3" r="0.55"/><circle cx="486.6" cy="119.7" r="0.55"/><circle cx="488.3" cy="129.8" r="0.55"/><circle cx="492.3" cy="123.4" r="0.55"/><circle cx="498.0" cy="122.2" r="0.55"/><circle cx="492.6" cy="124.4" r="0.55"/><circle cx="493.1" cy="119.4" r="0.55"/><circle cx="495.8" cy="126.1" r="0.55"/><circle cx="471.5" cy="117.6" r="0.55"/><circle cx="483.4" cy="129.0" r="0.55"/><circle cx="490.3" cy="126.0" r="0.55"/><circle cx="494.6" cy="126.2" r="0.55"/><circle cx="484.9" cy="122.7" r="0.55"/><circle cx="493.1" cy="125.5" r="0.55"/></g>
<g fill="#222"><circle cx="503" cy="121" r="0.6"/><circle cx="507" cy="120.5" r="0.6"/><circle cx="498" cy="128" r="0.6"/><circle cx="494" cy="130" r="0.6"/><circle cx="489" cy="132" r="0.6"/><circle cx="486" cy="133.5" r="0.6"/><circle cx="478" cy="135" r="0.6"/><circle cx="500" cy="124" r="0.6"/></g>
<g fill="#222"><circle cx="468.7" cy="139.0" r="0.55"/><circle cx="465.6" cy="141.3" r="0.55"/><circle cx="468.4" cy="141.1" r="0.55"/><circle cx="459.5" cy="141.0" r="0.55"/><circle cx="459.8" cy="138.6" r="0.55"/><circle cx="465.0" cy="138.4" r="0.55"/><circle cx="465.6" cy="137.1" r="0.55"/><circle cx="467.6" cy="139.0" r="0.55"/><circle cx="464.6" cy="130.5" r="0.55"/><circle cx="464.7" cy="139.6" r="0.55"/></g>
<text x="447" y="118" font-size="6.3" text-anchor="start" fill="#404040" font-weight="normal" >98,8</text>
<text x="504.5" y="118" font-size="6.3" text-anchor="end" fill="#404040" font-weight="normal" >1,20</text>
<g fill="#222"><circle cx="460.8" cy="154.5" r="0.6"/><circle cx="475.7" cy="163.2" r="0.6"/><circle cx="481.2" cy="161.9" r="0.6"/></g>
<line x1="225.8" y1="203.8" x2="225.8" y2="283.9" stroke="#000" stroke-width="1.4" />
<line x1="225.2" y1="283.25" x2="352.5" y2="283.25" stroke="#000" stroke-width="1.2" />
<line x1="222.5" y1="283.25" x2="225.8" y2="283.25" stroke="#000" stroke-width="1" />
<text transform="translate(219.2,286.25) scale(0.96,1)" font-size="8.7" text-anchor="end" fill="#000">0</text>
<line x1="222.5" y1="267.95" x2="225.8" y2="267.95" stroke="#000" stroke-width="1" />
<text transform="translate(219.2,270.95) scale(0.96,1)" font-size="8.7" text-anchor="end" fill="#000">20</text>
<line x1="222.5" y1="252.65" x2="225.8" y2="252.65" stroke="#000" stroke-width="1" />
<text transform="translate(219.2,255.65) scale(0.96,1)" font-size="8.7" text-anchor="end" fill="#000">40</text>
<line x1="222.5" y1="237.35" x2="225.8" y2="237.35" stroke="#000" stroke-width="1" />
<text transform="translate(219.2,240.35) scale(0.96,1)" font-size="8.7" text-anchor="end" fill="#000">60</text>
<line x1="222.5" y1="222.05" x2="225.8" y2="222.05" stroke="#000" stroke-width="1" />
<text transform="translate(219.2,225.05) scale(0.96,1)" font-size="8.7" text-anchor="end" fill="#000">80</text>
<line x1="222.5" y1="206.75" x2="225.8" y2="206.75" stroke="#000" stroke-width="1" />
<text transform="translate(219.2,209.75) scale(0.96,1)" font-size="8.7" text-anchor="end" fill="#000">100</text>
<line x1="226.0" y1="283.25" x2="226.0" y2="286.5" stroke="#000" stroke-width="1" />
<text transform="translate(226.0,297.2) scale(0.98,1)" font-size="8.7" text-anchor="middle" fill="#000">0</text>
<line x1="243.64" y1="283.25" x2="243.64" y2="286.5" stroke="#000" stroke-width="1" />
<text transform="translate(243.64,297.2) scale(0.98,1)" font-size="8.7" text-anchor="middle" fill="#000">10</text>
<line x1="261.28" y1="283.25" x2="261.28" y2="286.5" stroke="#000" stroke-width="1" />
<text transform="translate(261.28,297.2) scale(0.98,1)" font-size="8.7" text-anchor="middle" fill="#000">20</text>
<line x1="278.92" y1="283.25" x2="278.92" y2="286.5" stroke="#000" stroke-width="1" />
<text transform="translate(278.92,297.2) scale(0.98,1)" font-size="8.7" text-anchor="middle" fill="#000">30</text>
<line x1="296.56" y1="283.25" x2="296.56" y2="286.5" stroke="#000" stroke-width="1" />
<text transform="translate(296.56,297.2) scale(0.98,1)" font-size="8.7" text-anchor="middle" fill="#000">40</text>
<line x1="314.2" y1="283.25" x2="314.2" y2="286.5" stroke="#000" stroke-width="1" />
<text transform="translate(314.2,297.2) scale(0.98,1)" font-size="8.7" text-anchor="middle" fill="#000">50</text>
<line x1="331.84000000000003" y1="283.25" x2="331.84000000000003" y2="286.5" stroke="#000" stroke-width="1" />
<text transform="translate(331.84000000000003,297.2) scale(0.98,1)" font-size="8.7" text-anchor="middle" fill="#000">60</text>
<line x1="349.48" y1="283.25" x2="349.48" y2="286.5" stroke="#000" stroke-width="1" />
<text transform="translate(349.48,297.2) scale(0.98,1)" font-size="8.7" text-anchor="middle" fill="#000">70</text>
<text transform="translate(289.4,311.1) scale(0.745,1)" font-size="9.4" text-anchor="middle" stroke="#000" stroke-width="0.2">Days post injection</text>
<text transform="translate(184.2,245.4) rotate(-90) scale(0.74,1)" font-size="10" text-anchor="middle" stroke="#000" stroke-width="0.3">% of RT1<tspan font-size="6.3" dy="-4">n-</tspan><tspan dy="4"> RT1</tspan><tspan font-size="6.3" dy="-4">l+</tspan></text>
<text transform="translate(194.4,245.1) rotate(-90) scale(0.82,1)" font-size="8.5" text-anchor="middle" stroke="#000" stroke-width="0.25">among PBMCs</text>
<polyline points="238.348,282.485 252.46,263.36 264.808,226.64 314.2,211.34 349.48,207.89749999999998" fill="none" stroke="#a6102c" stroke-width="1.7"/>
<rect x="235.548" y="279.685" width="5.6" height="5.6" fill="#a6102c" stroke="none" stroke-width="1" />
<rect x="249.66" y="260.56" width="5.6" height="5.6" fill="#a6102c" stroke="none" stroke-width="1" />
<rect x="262.008" y="223.83999999999997" width="5.6" height="5.6" fill="#a6102c" stroke="none" stroke-width="1" />
<rect x="311.4" y="208.54" width="5.6" height="5.6" fill="#a6102c" stroke="none" stroke-width="1" />
<rect x="346.68" y="205.09749999999997" width="5.6" height="5.6" fill="#a6102c" stroke="none" stroke-width="1" />
<polyline points="238.348,282.485 252.46,263.36 264.808,234.44299999999998" fill="none" stroke="#2b4b87" stroke-width="1.7" stroke-dasharray="3,1.6"/>
<line x1="264.808" y1="240.0275" x2="264.808" y2="228.935" stroke="#2b4b87" stroke-width="1.1" />
<line x1="262.808" y1="240.0275" x2="266.808" y2="240.0275" stroke="#2b4b87" stroke-width="1.1" />
<circle cx="238.348" cy="282.485" r="2.6" fill="#2b4b87"/>
<circle cx="252.46" cy="263.36" r="2.6" fill="#2b4b87"/>
<circle cx="264.808" cy="234.44299999999998" r="2.6" fill="#2b4b87"/>
<line x1="354.5" y1="238.75" x2="368" y2="238.75" stroke="#2b4b87" stroke-width="1.5" stroke-dasharray="3,1.5"/>
<circle cx="361.2" cy="238.75" r="2.7" fill="#2b4b87"/>
<line x1="354.5" y1="250" x2="368" y2="250" stroke="#a6102c" stroke-width="1.7" />
<rect x="358.3" y="247.2" width="5.6" height="5.6" fill="#a6102c" stroke="none" stroke-width="1" />
<text x="371.3" y="241.5" font-size="7.85" text-anchor="start" fill="#000" font-weight="normal" >Lew T + Isotype + Rapa, n=6</text>
<text x="371.3" y="252.8" font-size="7.85" text-anchor="start" fill="#000" font-weight="normal" >Lew T + Anti-CD45RC + Rapa, n=6</text>
<text x="8" y="342" font-size="12" text-anchor="start" fill="#000" font-weight="bold" stroke="#000" stroke-width="0.45">C</text>
<line x1="51.9" y1="351.5" x2="51.9" y2="433" stroke="#000" stroke-width="1.3" />
<line x1="51.2" y1="432.5" x2="182" y2="432.5" stroke="#000" stroke-width="1.3" />
<line x1="48.8" y1="432.5" x2="51.9" y2="432.5" stroke="#000" stroke-width="1.1" />
<text x="41.1" y="435.7" font-size="7.9" text-anchor="end">10</text><text x="41.5" y="431.7" font-size="6.2">5</text>
<line x1="50" y1="426.62991508455235" x2="51.9" y2="426.62991508455235" stroke="#000" stroke-width="0.6" />
<line x1="50" y1="423.1961355329666" x2="51.9" y2="423.1961355329666" stroke="#000" stroke-width="0.6" />
<line x1="50" y1="420.75983016910476" x2="51.9" y2="420.75983016910476" stroke="#000" stroke-width="0.6" />
<line x1="50" y1="418.87008491544765" x2="51.9" y2="418.87008491544765" stroke="#000" stroke-width="0.6" />
<line x1="50" y1="417.32605061751894" x2="51.9" y2="417.32605061751894" stroke="#000" stroke-width="0.6" />
<line x1="50" y1="416.020588219722" x2="51.9" y2="416.020588219722" stroke="#000" stroke-width="0.6" />
<line x1="50" y1="414.8897452536571" x2="51.9" y2="414.8897452536571" stroke="#000" stroke-width="0.6" />
<line x1="50" y1="413.8922710659332" x2="51.9" y2="413.8922710659332" stroke="#000" stroke-width="0.6" />
<line x1="48.8" y1="413.0" x2="51.9" y2="413.0" stroke="#000" stroke-width="1.1" />
<text x="41.1" y="416.2" font-size="7.9" text-anchor="end">10</text><text x="41.5" y="412.2" font-size="6.2">6</text>
<line x1="50" y1="407.12991508455235" x2="51.9" y2="407.12991508455235" stroke="#000" stroke-width="0.6" />
<line x1="50" y1="403.6961355329666" x2="51.9" y2="403.6961355329666" stroke="#000" stroke-width="0.6" />
<line x1="50" y1="401.25983016910476" x2="51.9" y2="401.25983016910476" stroke="#000" stroke-width="0.6" />
<line x1="50" y1="399.37008491544765" x2="51.9" y2="399.37008491544765" stroke="#000" stroke-width="0.6" />
<line x1="50" y1="397.82605061751894" x2="51.9" y2="397.82605061751894" stroke="#000" stroke-width="0.6" />
<line x1="50" y1="396.520588219722" x2="51.9" y2="396.520588219722" stroke="#000" stroke-width="0.6" />
<line x1="50" y1="395.3897452536571" x2="51.9" y2="395.3897452536571" stroke="#000" stroke-width="0.6" />
<line x1="50" y1="394.3922710659332" x2="51.9" y2="394.3922710659332" stroke="#000" stroke-width="0.6" />
<line x1="48.8" y1="393.5" x2="51.9" y2="393.5" stroke="#000" stroke-width="1.1" />
<text x="41.1" y="396.7" font-size="7.9" text-anchor="end">10</text><text x="41.5" y="392.7" font-size="6.2">7</text>
<line x1="50" y1="387.62991508455235" x2="51.9" y2="387.62991508455235" stroke="#000" stroke-width="0.6" />
<line x1="50" y1="384.1961355329666" x2="51.9" y2="384.1961355329666" stroke="#000" stroke-width="0.6" />
<line x1="50" y1="381.75983016910476" x2="51.9" y2="381.75983016910476" stroke="#000" stroke-width="0.6" />
<line x1="50" y1="379.87008491544765" x2="51.9" y2="379.87008491544765" stroke="#000" stroke-width="0.6" />
<line x1="50" y1="378.32605061751894" x2="51.9" y2="378.32605061751894" stroke="#000" stroke-width="0.6" />
<line x1="50" y1="377.020588219722" x2="51.9" y2="377.020588219722" stroke="#000" stroke-width="0.6" />
<line x1="50" y1="375.8897452536571" x2="51.9" y2="375.8897452536571" stroke="#000" stroke-width="0.6" />
<line x1="50" y1="374.8922710659332" x2="51.9" y2="374.8922710659332" stroke="#000" stroke-width="0.6" />
<line x1="48.8" y1="374.0" x2="51.9" y2="374.0" stroke="#000" stroke-width="1.1" />
<text x="41.1" y="377.2" font-size="7.9" text-anchor="end">10</text><text x="41.5" y="373.2" font-size="6.2">8</text>
<line x1="50" y1="368.12991508455235" x2="51.9" y2="368.12991508455235" stroke="#000" stroke-width="0.6" />
<line x1="50" y1="364.6961355329666" x2="51.9" y2="364.6961355329666" stroke="#000" stroke-width="0.6" />
<line x1="50" y1="362.25983016910476" x2="51.9" y2="362.25983016910476" stroke="#000" stroke-width="0.6" />
<line x1="50" y1="360.37008491544765" x2="51.9" y2="360.37008491544765" stroke="#000" stroke-width="0.6" />
<line x1="50" y1="358.82605061751894" x2="51.9" y2="358.82605061751894" stroke="#000" stroke-width="0.6" />
<line x1="50" y1="357.520588219722" x2="51.9" y2="357.520588219722" stroke="#000" stroke-width="0.6" />
<line x1="50" y1="356.3897452536571" x2="51.9" y2="356.3897452536571" stroke="#000" stroke-width="0.6" />
<line x1="50" y1="355.3922710659332" x2="51.9" y2="355.3922710659332" stroke="#000" stroke-width="0.6" />
<line x1="48.8" y1="354.5" x2="51.9" y2="354.5" stroke="#000" stroke-width="1.1" />
<text x="41.1" y="357.7" font-size="7.9" text-anchor="end">10</text><text x="41.5" y="353.7" font-size="6.2">9</text>
<text transform="translate(25.9,391.5) rotate(-90) scale(0.68,1)" font-size="10.6" text-anchor="middle" stroke="#000" stroke-width="0.25">Absolute number of cells</text>
<line x1="59.15" y1="362" x2="59.15" y2="364.25" stroke="#222" stroke-width="0.8" />
<line x1="57.85" y1="362.4" x2="60.449999999999996" y2="362.4" stroke="#222" stroke-width="0.9" />
<rect x="56.25" y="364.25" width="5.75" height="68.25" fill="#a6102c" stroke="none" stroke-width="1" />
<line x1="67.95" y1="361" x2="67.95" y2="363.25" stroke="#222" stroke-width="0.8" />
<line x1="66.65" y1="361.4" x2="69.25" y2="361.4" stroke="#222" stroke-width="0.9" />
<rect x="65.05" y="363.25" width="5.75" height="69.25" fill="#2b4b87" stroke="none" stroke-width="1" />
<line x1="76.75" y1="384.2" x2="76.75" y2="386.25" stroke="#222" stroke-width="0.8" />
<line x1="75.45" y1="384.59999999999997" x2="78.05" y2="384.59999999999997" stroke="#222" stroke-width="0.9" />
<rect x="73.85" y="386.25" width="5.75" height="46.25" fill="#5ea63a" stroke="none" stroke-width="1" />
<line x1="67.95" y1="432.5" x2="67.95" y2="435" stroke="#000" stroke-width="1" />
<text x="67.95" y="446.5" font-size="8.6" text-anchor="middle" fill="#000" font-weight="normal" >Spleen</text>
<line x1="91.65" y1="397" x2="91.65" y2="400" stroke="#222" stroke-width="0.8" />
<line x1="90.35000000000001" y1="397.4" x2="92.95" y2="397.4" stroke="#222" stroke-width="0.9" />
<rect x="88.75" y="400" width="5.75" height="32.5" fill="#a6102c" stroke="none" stroke-width="1" />
<line x1="100.45" y1="396.2" x2="100.45" y2="401.25" stroke="#222" stroke-width="0.8" />
<line x1="99.15" y1="396.59999999999997" x2="101.75" y2="396.59999999999997" stroke="#222" stroke-width="0.9" />
<rect x="97.55" y="401.25" width="5.75" height="31.25" fill="#2b4b87" stroke="none" stroke-width="1" />
<line x1="109.25" y1="405.5" x2="109.25" y2="408" stroke="#222" stroke-width="0.8" />
<line x1="107.95" y1="405.9" x2="110.55" y2="405.9" stroke="#222" stroke-width="0.9" />
<rect x="106.35" y="408" width="5.75" height="24.5" fill="#5ea63a" stroke="none" stroke-width="1" />
<line x1="100.45" y1="432.5" x2="100.45" y2="435" stroke="#000" stroke-width="1" />
<text x="100.45" y="446.5" font-size="8.6" text-anchor="middle" fill="#000" font-weight="normal" >PBMC</text>
<line x1="124.15" y1="368.7" x2="124.15" y2="370.5" stroke="#222" stroke-width="0.8" />
<line x1="122.85000000000001" y1="369.09999999999997" x2="125.45" y2="369.09999999999997" stroke="#222" stroke-width="0.9" />
<rect x="121.25" y="370.5" width="5.75" height="62.0" fill="#a6102c" stroke="none" stroke-width="1" />
<line x1="132.95000000000002" y1="372" x2="132.95000000000002" y2="374" stroke="#222" stroke-width="0.8" />
<line x1="131.65" y1="372.4" x2="134.25000000000003" y2="372.4" stroke="#222" stroke-width="0.9" />
<rect x="130.05" y="374" width="5.75" height="58.5" fill="#2b4b87" stroke="none" stroke-width="1" />
<line x1="141.75" y1="364" x2="141.75" y2="366.75" stroke="#222" stroke-width="0.8" />
<line x1="140.45" y1="364.4" x2="143.05" y2="364.4" stroke="#222" stroke-width="0.9" />
<rect x="138.85" y="366.75" width="5.75" height="65.75" fill="#5ea63a" stroke="none" stroke-width="1" />
<line x1="132.95" y1="432.5" x2="132.95" y2="435" stroke="#000" stroke-width="1" />
<text x="132.95" y="446.5" font-size="8.6" text-anchor="middle" fill="#000" font-weight="normal" >BM</text>
<line x1="156.5" y1="361.7" x2="156.5" y2="367" stroke="#222" stroke-width="0.8" />
<line x1="155.2" y1="362.09999999999997" x2="157.8" y2="362.09999999999997" stroke="#222" stroke-width="0.9" />
<rect x="153.6" y="367" width="5.75" height="65.5" fill="#a6102c" stroke="none" stroke-width="1" />
<line x1="165.3" y1="361.2" x2="165.3" y2="366.5" stroke="#222" stroke-width="0.8" />
<line x1="164.0" y1="361.59999999999997" x2="166.60000000000002" y2="361.59999999999997" stroke="#222" stroke-width="0.9" />
<rect x="162.4" y="366.5" width="5.75" height="66.0" fill="#2b4b87" stroke="none" stroke-width="1" />
<line x1="174.1" y1="394.5" x2="174.1" y2="396.25" stroke="#222" stroke-width="0.8" />
<line x1="172.79999999999998" y1="394.9" x2="175.4" y2="394.9" stroke="#222" stroke-width="0.9" />
<rect x="171.2" y="396.25" width="5.75" height="36.25" fill="#5ea63a" stroke="none" stroke-width="1" />
<line x1="165.29999999999998" y1="432.5" x2="165.29999999999998" y2="435" stroke="#000" stroke-width="1" />
<text x="165.29999999999998" y="446.5" font-size="8.6" text-anchor="middle" fill="#000" font-weight="normal" >LN</text>
<line x1="56.25" y1="358.25" x2="78.75" y2="358.25" stroke="#000" stroke-width="1.2" />
<text x="67.5" y="358.8" font-size="9.5" text-anchor="middle" fill="#000" font-weight="normal" >***</text>
<line x1="155.5" y1="357" x2="177.5" y2="357" stroke="#000" stroke-width="1.2" />
<text x="165.9" y="357.6" font-size="9.5" text-anchor="middle" fill="#000" font-weight="normal" >**</text>
<rect x="189.8" y="355.8" width="9.3" height="4.3" fill="#a6102c" stroke="none" stroke-width="1" />
<rect x="189.8" y="366.9" width="9.3" height="4.3" fill="#2b4b87" stroke="none" stroke-width="1" />
<rect x="189.8" y="377.6" width="9.3" height="4.3" fill="#5ea63a" stroke="none" stroke-width="1" />
<text x="202.6" y="360.5" font-size="6.65" text-anchor="start" fill="#000" font-weight="normal" >F1 rat, n=3</text>
<text x="202.6" y="370.9" font-size="6.65" text-anchor="start" fill="#000" font-weight="normal" >F1 T, long survivor, n=3</text>
<text x="202.6" y="381.5" font-size="6.65" text-anchor="start" fill="#000" font-weight="normal" >Lew T + Anti-CD45RC + Rapa, long survivor, n=3</text>
<text x="8" y="471.3" font-size="12" text-anchor="start" fill="#000" font-weight="bold" stroke="#000" stroke-width="0.45">D</text>
<text x="60.5" y="514.3" font-size="8.4" text-anchor="middle" fill="#000" font-weight="normal" >Lew</text>
<text x="60.8" y="545.6" font-size="8.4" text-anchor="middle" fill="#000" font-weight="normal" >BN</text>
<text x="46.5" y="572.3" font-size="8.4" text-anchor="middle" fill="#000" font-weight="normal" >Third party SPD</text>
<text x="155.4" y="510.6" font-size="8.4" text-anchor="middle" fill="#000" font-weight="normal" >Skin grafts</text>
<text x="211.5" y="572.6" font-size="8.4" text-anchor="middle" fill="#000" font-weight="normal" word-spacing="0.8">Lew T +</text>
<text x="212" y="583.0" font-size="8.4" text-anchor="middle" fill="#000" font-weight="normal" >Anti-CD45RC + Rapa</text>
<text x="211.7" y="593.3" font-size="8.4" text-anchor="middle" fill="#000" font-weight="normal" >Long survivor</text>
<text x="273" y="539.6" font-size="8.3" text-anchor="middle" fill="#000" font-weight="normal" >Daily skin</text>
<text x="273" y="550.3" font-size="8.3" text-anchor="middle" fill="#000" font-weight="normal" >graft</text>
<text x="273" y="560.8" font-size="8.3" text-anchor="middle" fill="#000" font-weight="normal" >rejection</text>
<text x="273" y="570.8" font-size="8.3" text-anchor="middle" fill="#000" font-weight="normal" >score</text>
<path d="M79,521.5 C72,520.5 68,519 62,521 C56,523 52,521.5 44.5,522" fill="none" stroke="#d3c7b2" stroke-width="1.5" stroke-linecap="round"/>
<g transform="translate(78,527) scale(1.0,1.0)"><path d="M1,-4 C0,-12 4,-25 17,-25.6 C25,-26 30,-23 34,-19.5 L36.2,-21.3 L38.4,-15 C40,-11 42.5,-6 44,-2.5 C42,-1.2 40,-1.2 38,-1.5 L26,-1.7 C18,-1.8 8,-1.8 1,-4 Z" fill="#ffffff" stroke="#a8a8a8" stroke-width="0.8" stroke-linejoin="round"/><path d="M12.8,-17.5 C17,-19 21,-16 20.8,-10 L20.5,-3" fill="none" stroke="#a8a8a8" stroke-width="0.8" stroke-linecap="round"/><ellipse cx="30.8" cy="-12.8" rx="2.1" ry="3" fill="#ffffff" stroke="#a8a8a8" stroke-width="0.6400000000000001"/><circle cx="36.8" cy="-7.6" r="0.9" fill="#111"/><path d="M43,-3 L48,-8.5 M43,-3 L47,-6.5 M42.5,-2.5 L40,3.5 M42,-2.5 L41.5,3" stroke="#b8b8b8" stroke-width="0.6" fill="none"/><path d="M12,-1.4 L19,-1.4 M27,-1.4 L32,-1.4" stroke="#d9cbb0" stroke-width="1.1"/></g>
<path d="M79,549.5 C72,549.5 68,547.5 62,549.5 C56,551.5 52,550 44.5,550.5" fill="none" stroke="#d3c7b2" stroke-width="1.5" stroke-linecap="round"/>
<g transform="translate(78,555) scale(1.0,1.0)"><path d="M1,-4 C0,-12 4,-25 17,-25.6 C25,-26 30,-23 34,-19.5 L36.2,-21.3 L38.4,-15 C40,-11 42.5,-6 44,-2.5 C42,-1.2 40,-1.2 38,-1.5 L26,-1.7 C18,-1.8 8,-1.8 1,-4 Z" fill="#7e7e7e" stroke="#737373" stroke-width="0.8" stroke-linejoin="round"/><path d="M12.8,-17.5 C17,-19 21,-16 20.8,-10 L20.5,-3" fill="none" stroke="#909090" stroke-width="0.8" stroke-linecap="round"/><ellipse cx="30.8" cy="-12.8" rx="2.1" ry="3" fill="#7e7e7e" stroke="#909090" stroke-width="0.6400000000000001"/><circle cx="36.8" cy="-7.6" r="0.9" fill="#111"/><path d="M43,-3 L48,-8.5 M43,-3 L47,-6.5 M42.5,-2.5 L40,3.5 M42,-2.5 L41.5,3" stroke="#b8b8b8" stroke-width="0.6" fill="none"/><path d="M12,-1.4 L19,-1.4 M27,-1.4 L32,-1.4" stroke="#d9cbb0" stroke-width="1.1"/></g>
<path d="M78,582 C72,581.5 68,579.5 62,581.5 C56,583 52,580 44.5,580.5" fill="none" stroke="#333" stroke-width="1.5" stroke-linecap="round"/>
<g transform="translate(77,585.5) scale(1.0,1.0)"><path d="M1,-4 C0,-12 4,-25 17,-25.6 C25,-26 30,-23 34,-19.5 L36.2,-21.3 L38.4,-15 C40,-11 42.5,-6 44,-2.5 C42,-1.2 40,-1.2 38,-1.5 L26,-1.7 C18,-1.8 8,-1.8 1,-4 Z" fill="#d4d4d4" stroke="#1a1a1a" stroke-width="1.15" stroke-linejoin="round"/><path d="M12.8,-17.5 C17,-19 21,-16 20.8,-10 L20.5,-3" fill="none" stroke="#1a1a1a" stroke-width="1.15" stroke-linecap="round"/><ellipse cx="30.8" cy="-12.8" rx="2.1" ry="3" fill="#d4d4d4" stroke="#1a1a1a" stroke-width="0.9199999999999999"/><circle cx="36.8" cy="-7.6" r="0.9" fill="#111"/><path d="M43,-3 L48,-8.5 M43,-3 L47,-6.5 M42.5,-2.5 L40,3.5 M42,-2.5 L41.5,3" stroke="#b8b8b8" stroke-width="0.6" fill="none"/><path d="M12,-1.4 L19,-1.4 M27,-1.4 L32,-1.4" stroke="#333" stroke-width="1.1"/></g>
<path d="M186,552.5 C180,551.5 176,554.5 170,553.5 C165,553 161,553 157.5,554" fill="none" stroke="#c9bca5" stroke-width="1.3" stroke-linecap="round"/>
<g transform="translate(184.5,557.8) scale(0.8,0.9)"><path d="M1,-4 C0,-12 4,-25 17,-25.6 C25,-26 30,-23 34,-19.5 L36.2,-21.3 L38.4,-15 C40,-11 42.5,-6 44,-2.5 C42,-1.2 40,-1.2 38,-1.5 L26,-1.7 C18,-1.8 8,-1.8 1,-4 Z" fill="#a2a2a2" stroke="#e8e8e8" stroke-width="0.8" stroke-linejoin="round"/><path d="M3,-5 C4,-3 10,-2.5 18,-2.6 L30,-3 C34,-3.5 38,-5 41,-4 L43,-2.6 C40,-1.3 36,-1.4 30,-1.6 L18,-1.8 C10,-1.8 4,-2.2 1.5,-4 Z" fill="#ffffff"/><path d="M3,-8 C3,-16 8,-23 15,-24.5" fill="none" stroke="#ffffff" stroke-width="1.2" stroke-linecap="round"/><path d="M12.8,-17.5 C17,-19 21,-16 20.8,-10 L20.5,-3" fill="none" stroke="#f2f2f2" stroke-width="0.8" stroke-linecap="round"/><ellipse cx="30.8" cy="-12.8" rx="2.1" ry="3" fill="#a2a2a2" stroke="#f2f2f2" stroke-width="0.6400000000000001"/><circle cx="36.8" cy="-7.6" r="0.9" fill="#111"/><path d="M43,-3 L48,-8.5 M43,-3 L47,-6.5 M42.5,-2.5 L40,3.5 M42,-2.5 L41.5,3" stroke="#b8b8b8" stroke-width="0.6" fill="none"/><path d="M12,-1.4 L19,-1.4 M27,-1.4 L32,-1.4" stroke="#111" stroke-width="1.1"/></g>
<line x1="127.5" y1="518.75" x2="171.6573851163475" y2="537.783355653598" stroke="#a6102c" stroke-width="1.3" />
<path d="M176.80,540.00 L168.96,540.00 L171.66,537.78 L171.42,534.30 Z" fill="#a6102c"/>
<line x1="125.5" y1="550.75" x2="171.4003193241791" y2="550.2598024149845" stroke="#2b4b87" stroke-width="1.3" />
<path d="M177.00,550.20 L169.83,553.38 L171.40,550.26 L169.77,547.18 Z" fill="#2b4b87"/>
<line x1="127.5" y1="579.5" x2="171.70364129486597" y2="564.3189514744905" stroke="#5ea63a" stroke-width="1.3" />
<path d="M177.00,562.50 L171.20,567.77 L171.70,564.32 L169.18,561.91 Z" fill="#5ea63a"/>
<line x1="231.8" y1="552.8" x2="245.60000000000002" y2="552.8" stroke="#2a2a2a" stroke-width="1.6" />
<path d="M251.80,552.80 L244.30,555.90 L245.60,552.80 L244.30,549.70 Z" fill="#2a2a2a"/>
<path d="M251.8,552.8 L244.3,549.7 L245.6,552.8 L244.3,555.9 Z" fill="#000"/>
<line x1="332.5" y1="513.5" x2="332.5" y2="583.5" stroke="#000" stroke-width="1.2" />
<line x1="332" y1="583" x2="433" y2="583" stroke="#000" stroke-width="1.2" />
<line x1="329.5" y1="583.0" x2="332.5" y2="583.0" stroke="#000" stroke-width="1" />
<text transform="translate(325.3,586.0) scale(0.9,1)" font-size="9.5" text-anchor="end" fill="#000">0</text>
<line x1="329.5" y1="560.8" x2="332.5" y2="560.8" stroke="#000" stroke-width="1" />
<text transform="translate(325.3,563.8) scale(0.9,1)" font-size="9.5" text-anchor="end" fill="#000">1</text>
<line x1="329.5" y1="538.6" x2="332.5" y2="538.6" stroke="#000" stroke-width="1" />
<text transform="translate(325.3,541.6) scale(0.9,1)" font-size="9.5" text-anchor="end" fill="#000">2</text>
<line x1="329.5" y1="516.4" x2="332.5" y2="516.4" stroke="#000" stroke-width="1" />
<text transform="translate(325.3,519.4) scale(0.9,1)" font-size="9.5" text-anchor="end" fill="#000">3</text>
<line x1="352.5" y1="583" x2="352.5" y2="586" stroke="#000" stroke-width="1" />
<text transform="translate(352.5,596.8) scale(0.9,1)" font-size="9.5" text-anchor="middle" fill="#000">10</text>
<line x1="372.0" y1="583" x2="372.0" y2="586" stroke="#000" stroke-width="1" />
<text transform="translate(372.0,596.8) scale(0.9,1)" font-size="9.5" text-anchor="middle" fill="#000">20</text>
<line x1="391.5" y1="583" x2="391.5" y2="586" stroke="#000" stroke-width="1" />
<text transform="translate(391.5,596.8) scale(0.9,1)" font-size="9.5" text-anchor="middle" fill="#000">30</text>
<line x1="411.0" y1="583" x2="411.0" y2="586" stroke="#000" stroke-width="1" />
<text transform="translate(411.0,596.8) scale(0.9,1)" font-size="9.5" text-anchor="middle" fill="#000">40</text>
<line x1="430.5" y1="583" x2="430.5" y2="586" stroke="#000" stroke-width="1" />
<text transform="translate(430.5,596.8) scale(0.9,1)" font-size="9.5" text-anchor="middle" fill="#000">50</text>
<text transform="translate(383.5,609.6) scale(0.665,1)" font-size="10.6" text-anchor="middle" stroke="#000" stroke-width="0.2">Days post graft</text>
<text transform="translate(314.4,548.1) rotate(-90) scale(0.77,1)" font-size="9.3" text-anchor="middle" stroke="#000" stroke-width="0.25">Skin graft rejection score</text>
<polyline points="356.4,560.8 361.1,545.9 363.4,538.6 370.4,538.6" fill="none" stroke="#2b8a2e" stroke-width="2.0" stroke-linejoin="round"/>
<polyline points="370.4,538.6 372.0,531.3 378.4,531.3 379.4,523.7 401.8,523.7 402.8,516.4 431.5,516.4" fill="none" stroke="#2b8a2e" stroke-width="2.8" stroke-linejoin="round"/>
<polyline points="346.1,560.8 354.8,560.8 356.0,568.1 357.8,568.1 358.7,560.8 359.9,560.8 361.1,568.1 364.6,568.1 366.3,560.8 367.1,560.8 367.9,568.1 368.9,568.1 369.9,560.8 371.8,553.5 373.6,560.8 380.2,560.8 381.4,568.1 431.5,568.1" fill="none" stroke="#2b4b87" stroke-width="3" stroke-linejoin="round"/>
<polyline points="333.0,583.0 345.7,583.0 346.1,560.8" fill="none" stroke="#a6102c" stroke-width="1.2"/>
<polyline points="333.0,583.0 345.7,583.0" fill="none" stroke="#a6102c" stroke-width="2.8"/>
<polyline points="346.1,560.8 354.8,560.8 356.0,568.1 358.4,553.5 360.7,553.5 363.4,568.1 365.8,545.9 367.5,553.5 370.4,553.5 371.4,545.9 374.9,560.8 380.2,560.8 381.4,568.1 387.6,568.1 389.4,575.7 431.5,575.7" fill="none" stroke="#a6102c" stroke-width="2.8" stroke-linejoin="round"/>
<line x1="331" y1="474.3" x2="344" y2="474.3" stroke="#a6102c" stroke-width="1.8" />
<path d="M337.4,472.6 L339.3,475.5 L335.5,475.5 Z" fill="#a6102c"/>
<line x1="331" y1="485.7" x2="344" y2="485.7" stroke="#2b4b87" stroke-width="1.8" />
<rect x="335.8" y="484.1" width="3.2" height="3.2" fill="#2b4b87" stroke="none" stroke-width="1" />
<line x1="331" y1="497.1" x2="344" y2="497.1" stroke="#2b8a2e" stroke-width="1.8" />
<path d="M337.4,495.3 L339.2,497.1 L337.4,498.9 L335.6,497.1 Z" fill="#2b8a2e"/>
<text x="347" y="477.3" font-size="7.3" text-anchor="start" fill="#000" font-weight="normal" >Lew skin graft, n=3</text>
<text x="347" y="488.7" font-size="7.3" text-anchor="start" fill="#000" font-weight="normal" >BN skin graft, n=3</text>
<text x="347" y="500.2" font-size="7.3" text-anchor="start" fill="#000" font-weight="normal" >3rd party SPD skin graft n=3</text>
<line x1="444.4" y1="485" x2="444.4" y2="499.5" stroke="#000" stroke-width="1" />
<circle cx="448.8" cy="492.3" r="0.8" fill="#000"/>
<line x1="455.6" y1="470.6" x2="455.6" y2="502.3" stroke="#000" stroke-width="1" />
<circle cx="460" cy="485.2" r="0.8" fill="#000"/><circle cx="460" cy="488" r="0.8" fill="#000"/>
<rect x="0.5" y="0.5" width="519" height="619" fill="none" stroke="#000" stroke-width="1"/>
</svg></body></html>
